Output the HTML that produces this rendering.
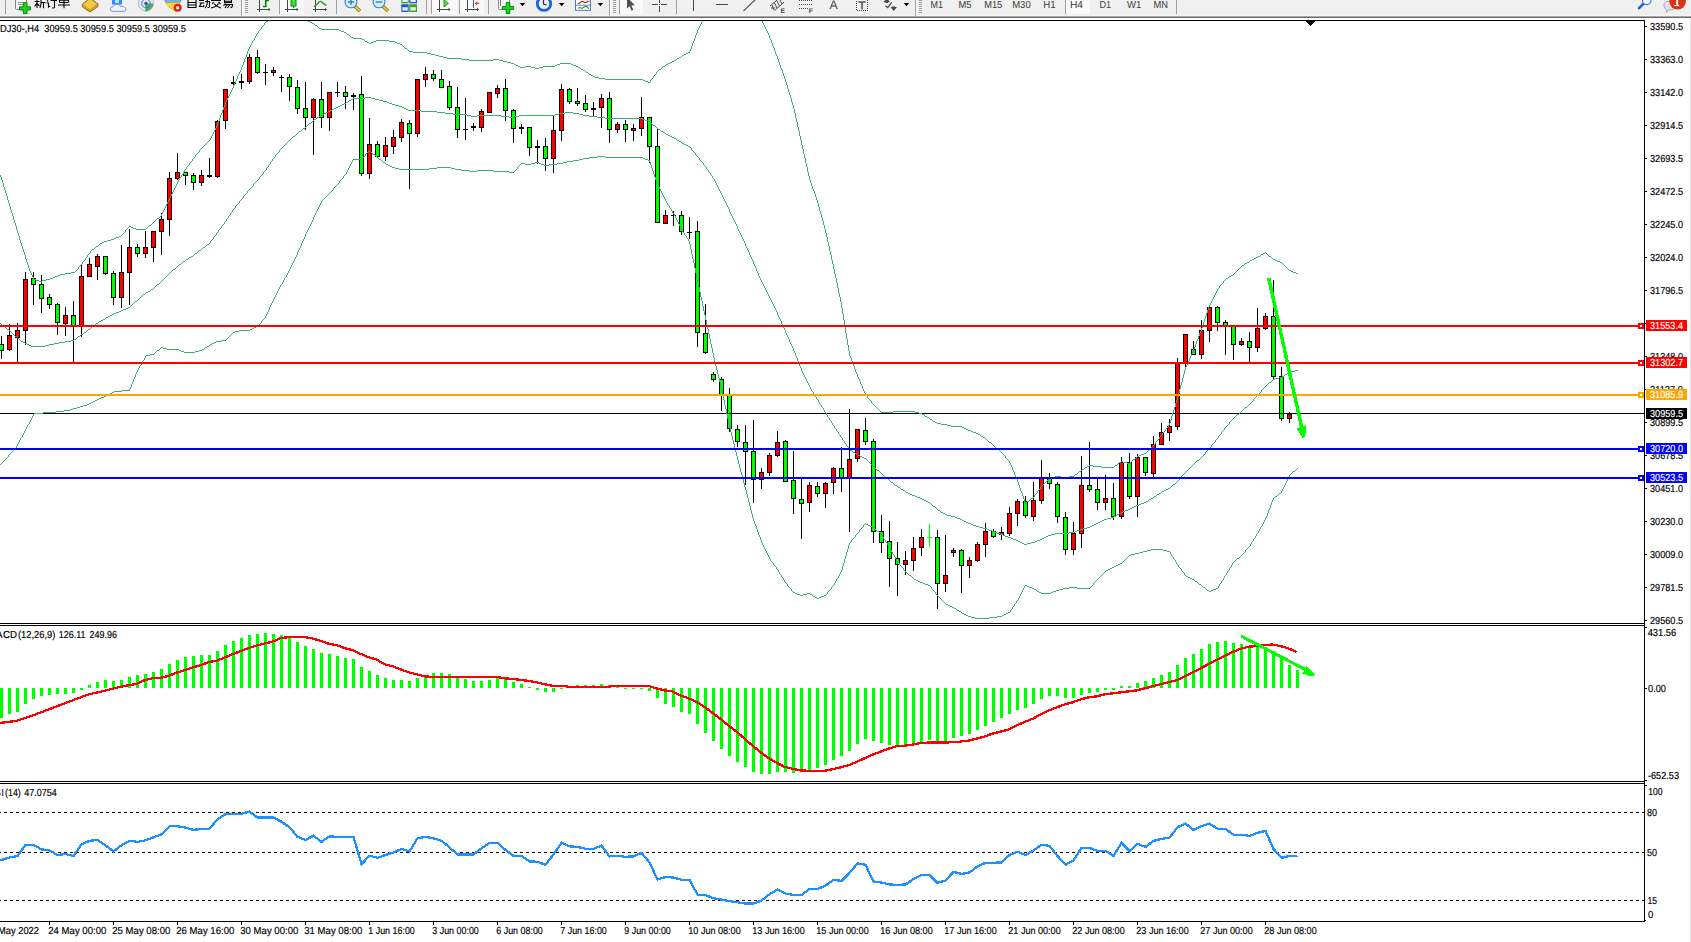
<!DOCTYPE html><html><head><meta charset="utf-8"><style>html,body{margin:0;padding:0;background:#fff;overflow:hidden}svg{display:block}</style></head><body><svg width="1691" height="942" viewBox="0 0 1691 942" font-family="Liberation Sans, sans-serif" text-rendering="geometricPrecision">
<defs><clipPath id="mainclip"><rect x="0" y="21" width="1644" height="602"/></clipPath>
<clipPath id="tbclip"><rect x="0" y="0" width="1691" height="16"/></clipPath></defs>
<rect x="0" y="0" width="1691" height="942" fill="#fff" />
<g shape-rendering="crispEdges">
<rect x="0" y="0" width="1691" height="16" fill="#f0f0f0" />
<rect x="0" y="15" width="1691" height="1" fill="#f6f6f6" />
<rect x="0" y="16" width="1691" height="1" fill="#a9a9a9" />
<rect x="0" y="17" width="1691" height="1" fill="#696969" />
</g>
<g clip-path="url(#tbclip)">
<rect x="5" y="0" width="1" height="14" fill="#a0a0a0" shape-rendering="crispEdges"/>
<rect x="15.5" y="-3" width="11" height="12.5" rx="1" fill="#fff" stroke="#808080"/>
<path d="M18,2.5H24M18,4.5H24" stroke="#909090" stroke-width="1"/>
<path d="M19.5,6.8H23.3V2.6H27V6.8H30.5V10H27V13.6H23.3V10H19.5Z" fill="#1fd01f" stroke="#0a8a0a" stroke-width="1"/>
<g stroke="#000" stroke-width="1.1" fill="none">
<path d="M34.5,1.5H39.5M37,0V8M37,3L34.5,6.5M37,3.5L39.5,6M41,0V3.5Q41,6.5 39.8,8M41,2.5H45.5M43.5,2.5V8.2"/>
<path d="M47,0.5L48.2,1.5M46.5,3H48.5V7L50,6M50.5,0.5H57M54.5,0.5V7.5Q54,8.3 52,7.8"/>
<path d="M59.5,0.3H68.5M59.5,2.5H68.5M59.5,0V2.5M68.5,0V2.5M58,5H70M64,0V8.3"/>
</g>
<polygon points="82,4.5 90,-2 98,4 98,6.5 90,12 82.5,7" fill="#d9a21b" stroke="#8a5a08" stroke-width="0.8"/>
<polygon points="83.5,4.5 90,-1 96.5,4 90,9" fill="#f2cd4a"/>
<rect x="112" y="-3" width="10" height="7.5" fill="#2a8cff"/><rect x="115" y="0" width="4" height="3" fill="#bfe0ff"/>
<path d="M112.5,11.3Q109.8,11 110.3,8.5Q110.6,6.6 113,6.8Q114,4 117.2,4.3Q120,4.2 120.8,6.6Q123,5.6 124.3,7.3Q126.6,7.8 125.8,10Q125.3,11.4 123.5,11.3Z" fill="#eef4fc" stroke="#6f8fc0" stroke-width="0.9"/>
<circle cx="146" cy="3.5" r="7.6" fill="#dfe9f4" stroke="#9db4d6" stroke-width="0.8"/>
<path d="M146,3.5L153.5,3.5A7.5,7.5 0 0 1 146,11Z" fill="#58a868"/>
<circle cx="146" cy="3.5" r="4.3" fill="none" stroke="#4f74cf" stroke-width="1"/>
<circle cx="146" cy="3.5" r="1.7" fill="#2a50c8"/>
<rect x="145.5" y="4" width="1.3" height="7.5" fill="#2f9a3a"/>
<ellipse cx="173" cy="0.5" rx="8" ry="3" fill="#6fb4e6" stroke="#3f7fba" stroke-width="0.8"/>
<polygon points="165.5,2.5 180,2.5 176,8 176,11.5 170,8" fill="#f6d643" stroke="#c9a227" stroke-width="0.7"/>
<circle cx="177.7" cy="7.8" r="4" fill="#e02010"/><rect x="176.3" y="6.4" width="2.8" height="2.8" fill="#fff"/>
<g stroke="#000" stroke-width="1.1" fill="none">
<path d="M188,0V7.5H196V0M188,2.5H196M188,5H196"/>
<path d="M199,0.5H204M199.5,3H204.5M201.5,3L199.5,6.5H203.5L204,5M205,1.5H209.5V6.5Q209.3,7.8 207.5,7.5M207.3,0V3Q207,6 205,8"/>
<path d="M211,0.5H221M213.5,2L212,4M218.5,2L220.5,4M214,3.5Q216,6.5 221,8M218.5,3.5Q216.5,7 211,8"/>
<path d="M224.5,0V2.5H231.5V0M224.5,1.2H231.5M225.5,3.5L223.5,5.8M225,4.5H232.5Q232.5,7.8 230.3,7.8M227.5,4.5L225,7.8M230,4.5L227.5,7.8"/>
</g>
<rect x="241" y="0" width="1" height="16" fill="#a0a0a0" shape-rendering="crispEdges"/>
<rect x="242" y="0" width="1" height="16" fill="#fff" shape-rendering="crispEdges"/>
<rect x="245" y="0" width="3" height="1" fill="#a0a0a0" shape-rendering="crispEdges"/>
<rect x="245" y="2" width="3" height="1" fill="#a0a0a0" shape-rendering="crispEdges"/>
<rect x="245" y="4" width="3" height="1" fill="#a0a0a0" shape-rendering="crispEdges"/>
<rect x="245" y="6" width="3" height="1" fill="#a0a0a0" shape-rendering="crispEdges"/>
<rect x="245" y="8" width="3" height="1" fill="#a0a0a0" shape-rendering="crispEdges"/>
<rect x="245" y="10" width="3" height="1" fill="#a0a0a0" shape-rendering="crispEdges"/>
<rect x="245" y="12" width="3" height="1" fill="#a0a0a0" shape-rendering="crispEdges"/>
<rect x="259" y="0" width="1" height="12" fill="#484848" shape-rendering="crispEdges"/>
<rect x="257" y="9" width="13" height="1" fill="#484848" shape-rendering="crispEdges"/>
<polygon points="268.5,7.8 270.5,9.5 268.5,11.2" fill="#484848"/>
<path d="M263,6.5H265.8V0.5H269" fill="none" stroke="#008a00" stroke-width="1.6"/>
<rect x="279" y="0" width="1" height="14" fill="#a0a0a0" shape-rendering="crispEdges"/>
<rect x="280" y="0" width="24" height="14" fill="#f9f9f9"/>
<rect x="287" y="0" width="1" height="12" fill="#484848" shape-rendering="crispEdges"/>
<rect x="285" y="9" width="13" height="1" fill="#484848" shape-rendering="crispEdges"/>
<polygon points="296.5,7.8 298.5,9.5 296.5,11.2" fill="#484848"/>
<rect x="291" y="-2" width="5" height="8" fill="#3ce03c" stroke="#0a8a0a" stroke-width="1"/><rect x="293" y="6" width="1.2" height="2.2" fill="#0a8a0a"/>
<rect x="315" y="0" width="1" height="12" fill="#484848" shape-rendering="crispEdges"/>
<rect x="313" y="9" width="13.5" height="1" fill="#484848" shape-rendering="crispEdges"/>
<polygon points="325.0,7.8 327.0,9.5 325.0,11.2" fill="#484848"/>
<path d="M314,6.8Q317.5,4 319.5,1.8Q320.5,1 321.5,1.8Q324,4.5 326.5,5.3" fill="none" stroke="#1f9a2f" stroke-width="1.3"/>
<rect x="336" y="0" width="1" height="14" fill="#a0a0a0" shape-rendering="crispEdges"/>
<line x1="354.8" y1="6.2" x2="360" y2="11" stroke="#9a7410" stroke-width="3.4"/>
<line x1="355.2" y1="6.6" x2="359.6" y2="10.6" stroke="#ecd030" stroke-width="1.8"/>
<circle cx="351" cy="1.9" r="5.9" fill="#d2ecfc" stroke="#3a82c8" stroke-width="1.1"/>
<rect x="347.8" y="1.3" width="6.4" height="1.4" fill="#3a82b4"/>
<rect x="350.3" y="-2" width="1.4" height="7" fill="#3a82b4"/>
<line x1="382.8" y1="6.2" x2="388" y2="11" stroke="#9a7410" stroke-width="3.4"/>
<line x1="383.2" y1="6.6" x2="387.6" y2="10.6" stroke="#ecd030" stroke-width="1.8"/>
<circle cx="379" cy="1.9" r="5.9" fill="#d2ecfc" stroke="#3a82c8" stroke-width="1.1"/>
<rect x="375.8" y="1.3" width="6.4" height="1.4" fill="#3a82b4"/>
<rect x="401.3" y="-3" width="7.4" height="6.3" fill="#3aa51e"/><rect x="409.2" y="-3" width="7.8" height="6.3" fill="#2456d8"/>
<rect x="401.3" y="4.2" width="7.4" height="7.8" fill="#2456d8"/><rect x="409.2" y="4.2" width="7.8" height="7.8" fill="#3aa51e"/>
<rect x="402.4" y="-1" width="5.4" height="3" fill="#e8f4e0"/><rect x="410.4" y="-1" width="5.4" height="3" fill="#e4ecff"/>
<rect x="402.4" y="7.2" width="5.4" height="3.4" fill="#e4ecff"/><rect x="410.4" y="7.2" width="5.4" height="3.4" fill="#e8f4e0"/>
<rect x="426" y="0" width="1" height="14" fill="#a0a0a0" shape-rendering="crispEdges"/>
<rect x="431" y="0" width="1" height="14" fill="#a0a0a0" shape-rendering="crispEdges"/>
<rect x="432" y="0" width="25" height="14" fill="#f9f9f9"/>
<rect x="439" y="0" width="1" height="12" fill="#484848" shape-rendering="crispEdges"/>
<rect x="437" y="9" width="13" height="1" fill="#484848" shape-rendering="crispEdges"/>
<polygon points="448.5,7.8 450.5,9.5 448.5,11.2" fill="#484848"/>
<polygon points="444,-0.3 444,7 448.4,3.4" fill="#58e058" stroke="#16a016" stroke-width="1"/>
<rect x="459" y="0" width="1" height="14" fill="#a0a0a0" shape-rendering="crispEdges"/>
<rect x="460" y="0" width="24" height="14" fill="#f9f9f9"/>
<rect x="467" y="0" width="1" height="12" fill="#484848" shape-rendering="crispEdges"/>
<rect x="465" y="9" width="13.5" height="1" fill="#484848" shape-rendering="crispEdges"/>
<polygon points="477.0,7.8 479.0,9.5 477.0,11.2" fill="#484848"/>
<rect x="473" y="0" width="1" height="8" fill="#1f6fb0" shape-rendering="crispEdges"/>
<path d="M474.6,3.4L477.2,1.3V2.8H479.2V4H477.2V5.5Z" fill="#e04808"/>
<rect x="488" y="0" width="1" height="14" fill="#a0a0a0" shape-rendering="crispEdges"/>
<rect x="498.5" y="-3" width="11" height="12.5" rx="1" fill="#fff" stroke="#909090"/>
<path d="M500.5,0V6" stroke="#707070" stroke-width="1"/>
<path d="M502.3,6.4H506.2V2.4H509.8V6.4H513.6V9.4H509.8V13.5H506.2V9.4H502.3Z" fill="#1fd01f" stroke="#0a8a0a" stroke-width="1"/>
<polygon points="519.7,3 525.3000000000001,3 522.5,6.3" fill="#000"/>
<circle cx="544" cy="3.7" r="6.7" fill="#eef2fa" stroke="#1565d8" stroke-width="2.8"/>
<path d="M543.5,-1V4L546.5,5" fill="none" stroke="#303030" stroke-width="1.3"/>
<polygon points="558.9,3 564.5,3 561.6999999999999,6.3" fill="#000"/>
<rect x="575.5" y="-3" width="15" height="13.3" fill="#fff" stroke="#4a78c8" stroke-width="1"/>
<path d="M575.5,5.2H590.5" stroke="#4a78c8" stroke-width="0.9"/>
<path d="M577.5,3.3H579.5L581.5,1.5H583L584.5,2.5H586L588,1.2H589.5" fill="none" stroke="#a82010" stroke-width="1.1"/>
<path d="M578,8.3L580,7.5L582,8.4L585,6.3L587,6.8L589,8.6" fill="none" stroke="#189818" stroke-width="1.1"/>
<polygon points="597.6,3 603.2,3 600.4,6.3" fill="#000"/>
<rect x="609" y="0" width="1" height="16" fill="#a0a0a0" shape-rendering="crispEdges"/>
<rect x="610" y="0" width="1" height="16" fill="#fff" shape-rendering="crispEdges"/>
<rect x="613" y="0" width="3" height="1" fill="#a0a0a0" shape-rendering="crispEdges"/>
<rect x="613" y="2" width="3" height="1" fill="#a0a0a0" shape-rendering="crispEdges"/>
<rect x="613" y="4" width="3" height="1" fill="#a0a0a0" shape-rendering="crispEdges"/>
<rect x="613" y="6" width="3" height="1" fill="#a0a0a0" shape-rendering="crispEdges"/>
<rect x="613" y="8" width="3" height="1" fill="#a0a0a0" shape-rendering="crispEdges"/>
<rect x="613" y="10" width="3" height="1" fill="#a0a0a0" shape-rendering="crispEdges"/>
<rect x="613" y="12" width="3" height="1" fill="#a0a0a0" shape-rendering="crispEdges"/>
<rect x="619" y="0" width="1" height="14" fill="#a0a0a0" shape-rendering="crispEdges"/>
<rect x="620" y="0" width="23" height="14" fill="#f9f9f9"/>
<polygon points="627,-3 627,8.6 629.5,6.3 631.6,10.7 633.3,9.8 631.3,5.6 634.8,5.3" fill="#505050"/>
<g fill="#484848" shape-rendering="crispEdges"><rect x="652" y="4" width="6" height="1"/><rect x="661" y="4" width="6" height="1"/><rect x="659" y="0" width="1" height="3"/><rect x="659" y="6" width="1" height="6"/><rect x="659" y="4" width="1" height="1"/></g>
<rect x="676" y="0" width="1" height="14" fill="#a0a0a0" shape-rendering="crispEdges"/>
<rect x="693" y="0" width="1" height="11" fill="#484848" shape-rendering="crispEdges"/>
<rect x="716" y="4" width="12" height="1" fill="#484848" shape-rendering="crispEdges"/>
<line x1="743.5" y1="10.8" x2="755.8" y2="-0.8" stroke="#484848" stroke-width="1.1"/>
<g stroke="#484848" stroke-width="1" fill="none"><path d="M770,6L780,-2.5M774.5,10.7L784,2M772,5L774,10M774.5,3L777,8M777,1L779.5,6M779.5,-1L782,4M771,8H775"/></g>
<text x="780.6" y="12.6" font-size="6.6" font-weight="bold" fill="#484848">E</text>
<g stroke="#484848" stroke-width="1" stroke-dasharray="1,1" shape-rendering="crispEdges"><path d="M799,0.5H812M799,4.5H812M799,8.5H808"/></g>
<text x="808.8" y="12.6" font-size="6.6" font-weight="bold" fill="#484848">F</text>
<text x="829.6" y="8.6" font-size="12.5" fill="#484848" textLength="8.2" lengthAdjust="spacingAndGlyphs">A</text>
<rect x="856.5" y="-3" width="11" height="13.5" fill="none" stroke="#484848" stroke-width="1" stroke-dasharray="1,1" shape-rendering="crispEdges"/>
<text x="858.3" y="8.8" font-size="11" fill="#484848" stroke="#484848" stroke-width="0.3" textLength="7.4" lengthAdjust="spacingAndGlyphs">T</text>
<polygon points="883.5,2.3 886.7,-2 890,2.3 888,2.3 888,3 885.5,3 885.5,2.3" fill="#484848"/>
<path d="M885.3,5.8L887.8,7.6L891.6,2.4" fill="none" stroke="#484848" stroke-width="1.2"/>
<polygon points="890.6,7.2 893.7,6.3 896.9,7.2 893.7,10.9" fill="#484848"/>
<polygon points="903.7,3 909.3000000000001,3 906.5,6.3" fill="#000"/>
<rect x="915" y="0" width="1" height="16" fill="#a0a0a0" shape-rendering="crispEdges"/>
<rect x="916" y="0" width="1" height="16" fill="#fff" shape-rendering="crispEdges"/>
<rect x="919" y="0" width="3" height="1" fill="#a0a0a0" shape-rendering="crispEdges"/>
<rect x="919" y="2" width="3" height="1" fill="#a0a0a0" shape-rendering="crispEdges"/>
<rect x="919" y="4" width="3" height="1" fill="#a0a0a0" shape-rendering="crispEdges"/>
<rect x="919" y="6" width="3" height="1" fill="#a0a0a0" shape-rendering="crispEdges"/>
<rect x="919" y="8" width="3" height="1" fill="#a0a0a0" shape-rendering="crispEdges"/>
<rect x="919" y="10" width="3" height="1" fill="#a0a0a0" shape-rendering="crispEdges"/>
<rect x="919" y="12" width="3" height="1" fill="#a0a0a0" shape-rendering="crispEdges"/>
<text x="930.5" y="8.4" font-size="10.2" fill="#3c3c3c" textLength="12.5" lengthAdjust="spacingAndGlyphs">M1</text>
<text x="958.5" y="8.4" font-size="10.2" fill="#3c3c3c" textLength="13" lengthAdjust="spacingAndGlyphs">M5</text>
<text x="984.2" y="8.4" font-size="10.2" fill="#3c3c3c" textLength="18" lengthAdjust="spacingAndGlyphs">M15</text>
<text x="1012.2" y="8.4" font-size="10.2" fill="#3c3c3c" textLength="18.5" lengthAdjust="spacingAndGlyphs">M30</text>
<text x="1043.2" y="8.4" font-size="10.2" fill="#3c3c3c" textLength="12.3" lengthAdjust="spacingAndGlyphs">H1</text>
<rect x="1065" y="0" width="1" height="14" fill="#a0a0a0" shape-rendering="crispEdges"/>
<rect x="1066" y="0" width="24" height="14" fill="#f9f9f9"/>
<text x="1070" y="8.4" font-size="10.2" fill="#3c3c3c" textLength="13" lengthAdjust="spacingAndGlyphs">H4</text>
<text x="1099.5" y="8.4" font-size="10.2" fill="#3c3c3c" textLength="11.7" lengthAdjust="spacingAndGlyphs">D1</text>
<text x="1127" y="8.4" font-size="10.2" fill="#3c3c3c" textLength="14.3" lengthAdjust="spacingAndGlyphs">W1</text>
<text x="1153.5" y="8.4" font-size="10.2" fill="#3c3c3c" textLength="14.5" lengthAdjust="spacingAndGlyphs">MN</text>
<rect x="1176" y="0" width="1" height="14" fill="#a0a0a0" shape-rendering="crispEdges"/>
<line x1="1643.3" y1="3.8" x2="1639" y2="8.2" stroke="#1f5fd0" stroke-width="2.6" stroke-linecap="round"/>
<circle cx="1646.7" cy="0.3" r="4.3" fill="#f4f6ff" stroke="#2f6ae0" stroke-width="1.1"/>
<path d="M1664,6Q1663,1 1670,1.3Q1676,1.5 1676,6Q1675,10 1668,10L1666.3,12.6L1666.5,9.6Q1664.3,8.5 1664,6Z" fill="#dfe2ee" stroke="#a8a8a8" stroke-width="0.9"/>
<circle cx="1677.6" cy="1.3" r="8.3" fill="#dc3218"/>
<rect x="1676.2" y="-3" width="1.9" height="8.6" fill="#fff"/><rect x="1674" y="5" width="5.2" height="1.1" fill="#fff"/>
</g>
<g shape-rendering="crispEdges">
<rect x="1690" y="18" width="1" height="924" fill="#e3e3e3" />
<rect x="0" y="20" width="1645" height="1" fill="#000" />
<rect x="1644" y="20" width="1" height="902" fill="#000" />
<rect x="0" y="623" width="1645" height="1" fill="#000" />
<rect x="0" y="625" width="1645" height="1" fill="#000" />
<rect x="0" y="781" width="1645" height="1" fill="#000" />
<rect x="0" y="783" width="1645" height="1" fill="#000" />
<rect x="0" y="921" width="1645" height="1" fill="#000" />
</g>
<g shape-rendering="crispEdges">
<rect x="1" y="336" width="1" height="23" fill="#000" />
<rect x="-1" y="344" width="5" height="7" fill="#000" />
<rect x="0" y="345" width="3" height="5" fill="#00ff00" />
<rect x="9" y="324" width="1" height="27" fill="#000" />
<rect x="7" y="335" width="5" height="15" fill="#000" />
<rect x="8" y="336" width="3" height="13" fill="#ff0000" />
<rect x="17" y="323" width="1" height="39" fill="#000" />
<rect x="15" y="330" width="5" height="8" fill="#000" />
<rect x="16" y="331" width="3" height="6" fill="#ff0000" />
<rect x="25" y="272" width="1" height="73" fill="#000" />
<rect x="23" y="279" width="5" height="52" fill="#000" />
<rect x="24" y="280" width="3" height="50" fill="#ff0000" />
<rect x="33" y="272" width="1" height="33" fill="#000" />
<rect x="31" y="278" width="5" height="7" fill="#000" />
<rect x="32" y="279" width="3" height="5" fill="#00ff00" />
<rect x="41" y="275" width="1" height="38" fill="#000" />
<rect x="39" y="284" width="5" height="15" fill="#000" />
<rect x="40" y="285" width="3" height="13" fill="#00ff00" />
<rect x="49" y="294" width="1" height="15" fill="#000" />
<rect x="47" y="297" width="5" height="8" fill="#000" />
<rect x="48" y="298" width="3" height="6" fill="#00ff00" />
<rect x="57" y="303" width="1" height="32" fill="#000" />
<rect x="55" y="304" width="5" height="19" fill="#000" />
<rect x="56" y="305" width="3" height="17" fill="#00ff00" />
<rect x="65" y="307" width="1" height="29" fill="#000" />
<rect x="63" y="315" width="5" height="9" fill="#000" />
<rect x="64" y="316" width="3" height="7" fill="#ff0000" />
<rect x="73" y="301" width="1" height="61" fill="#000" />
<rect x="71" y="315" width="5" height="11" fill="#000" />
<rect x="72" y="316" width="3" height="9" fill="#00ff00" />
<rect x="81" y="265" width="1" height="72" fill="#000" />
<rect x="79" y="276" width="5" height="51" fill="#000" />
<rect x="80" y="277" width="3" height="49" fill="#ff0000" />
<rect x="89" y="258" width="1" height="19" fill="#000" />
<rect x="87" y="264" width="5" height="13" fill="#000" />
<rect x="88" y="265" width="3" height="11" fill="#ff0000" />
<rect x="97" y="254" width="1" height="26" fill="#000" />
<rect x="95" y="256" width="5" height="11" fill="#000" />
<rect x="96" y="257" width="3" height="9" fill="#ff0000" />
<rect x="105" y="256" width="1" height="19" fill="#000" />
<rect x="103" y="256" width="5" height="18" fill="#000" />
<rect x="104" y="257" width="3" height="16" fill="#00ff00" />
<rect x="113" y="271" width="1" height="34" fill="#000" />
<rect x="111" y="273" width="5" height="25" fill="#000" />
<rect x="112" y="274" width="3" height="23" fill="#00ff00" />
<rect x="121" y="245" width="1" height="63" fill="#000" />
<rect x="119" y="272" width="5" height="26" fill="#000" />
<rect x="120" y="273" width="3" height="24" fill="#ff0000" />
<rect x="129" y="229" width="1" height="76" fill="#000" />
<rect x="127" y="247" width="5" height="26" fill="#000" />
<rect x="128" y="248" width="3" height="24" fill="#ff0000" />
<rect x="137" y="244" width="1" height="13" fill="#000" />
<rect x="135" y="247" width="5" height="7" fill="#000" />
<rect x="136" y="248" width="3" height="5" fill="#00ff00" />
<rect x="145" y="231" width="1" height="27" fill="#000" />
<rect x="143" y="247" width="5" height="7" fill="#000" />
<rect x="144" y="248" width="3" height="5" fill="#ff0000" />
<rect x="153" y="231" width="1" height="31" fill="#000" />
<rect x="151" y="231" width="5" height="17" fill="#000" />
<rect x="152" y="232" width="3" height="15" fill="#ff0000" />
<rect x="161" y="213" width="1" height="42" fill="#000" />
<rect x="159" y="219" width="5" height="13" fill="#000" />
<rect x="160" y="220" width="3" height="11" fill="#ff0000" />
<rect x="169" y="172" width="1" height="64" fill="#000" />
<rect x="167" y="178" width="5" height="42" fill="#000" />
<rect x="168" y="179" width="3" height="40" fill="#ff0000" />
<rect x="177" y="153" width="1" height="27" fill="#000" />
<rect x="175" y="172" width="5" height="7" fill="#000" />
<rect x="176" y="173" width="3" height="5" fill="#ff0000" />
<rect x="185" y="172" width="1" height="13" fill="#000" />
<rect x="183" y="172" width="5" height="4" fill="#000" />
<rect x="184" y="173" width="3" height="2" fill="#00ff00" />
<rect x="193" y="173" width="1" height="17" fill="#000" />
<rect x="191" y="175" width="5" height="8" fill="#000" />
<rect x="192" y="176" width="3" height="6" fill="#00ff00" />
<rect x="201" y="170" width="1" height="16" fill="#000" />
<rect x="199" y="175" width="5" height="8" fill="#000" />
<rect x="200" y="176" width="3" height="6" fill="#ff0000" />
<rect x="209" y="158" width="1" height="20" fill="#000" />
<rect x="207" y="175" width="5" height="2" fill="#000" />
<rect x="217" y="120" width="1" height="58" fill="#000" />
<rect x="215" y="121" width="5" height="56" fill="#000" />
<rect x="216" y="122" width="3" height="54" fill="#ff0000" />
<rect x="225" y="89" width="1" height="40" fill="#000" />
<rect x="223" y="89" width="5" height="32" fill="#000" />
<rect x="224" y="90" width="3" height="30" fill="#ff0000" />
<rect x="233" y="76" width="1" height="9" fill="#000" />
<rect x="231" y="82" width="5" height="2" fill="#000" />
<rect x="241" y="74" width="1" height="15" fill="#000" />
<rect x="239" y="81" width="5" height="2" fill="#000" />
<rect x="249" y="54" width="1" height="30" fill="#000" />
<rect x="247" y="57" width="5" height="25" fill="#000" />
<rect x="248" y="58" width="3" height="23" fill="#ff0000" />
<rect x="257" y="50" width="1" height="24" fill="#000" />
<rect x="255" y="57" width="5" height="16" fill="#000" />
<rect x="256" y="58" width="3" height="14" fill="#00ff00" />
<rect x="265" y="64" width="1" height="21" fill="#000" />
<rect x="263" y="72" width="5" height="1" fill="#000" />
<rect x="273" y="67" width="1" height="9" fill="#000" />
<rect x="271" y="70" width="5" height="3" fill="#000" />
<rect x="272" y="71" width="3" height="1" fill="#ff0000" />
<rect x="281" y="75" width="1" height="17" fill="#000" />
<rect x="279" y="77" width="5" height="1" fill="#000" />
<rect x="289" y="74" width="1" height="27" fill="#000" />
<rect x="287" y="77" width="5" height="10" fill="#000" />
<rect x="288" y="78" width="3" height="8" fill="#00ff00" />
<rect x="297" y="80" width="1" height="34" fill="#000" />
<rect x="295" y="87" width="5" height="22" fill="#000" />
<rect x="296" y="88" width="3" height="20" fill="#00ff00" />
<rect x="305" y="82" width="1" height="48" fill="#000" />
<rect x="303" y="108" width="5" height="10" fill="#000" />
<rect x="304" y="109" width="3" height="8" fill="#00ff00" />
<rect x="313" y="98" width="1" height="57" fill="#000" />
<rect x="311" y="99" width="5" height="19" fill="#000" />
<rect x="312" y="100" width="3" height="17" fill="#ff0000" />
<rect x="321" y="82" width="1" height="46" fill="#000" />
<rect x="319" y="99" width="5" height="19" fill="#000" />
<rect x="320" y="100" width="3" height="17" fill="#00ff00" />
<rect x="329" y="92" width="1" height="39" fill="#000" />
<rect x="327" y="92" width="5" height="26" fill="#000" />
<rect x="328" y="93" width="3" height="24" fill="#ff0000" />
<rect x="337" y="82" width="1" height="15" fill="#000" />
<rect x="335" y="92" width="5" height="1" fill="#000" />
<rect x="345" y="86" width="1" height="23" fill="#000" />
<rect x="343" y="92" width="5" height="5" fill="#000" />
<rect x="344" y="93" width="3" height="3" fill="#00ff00" />
<rect x="353" y="93" width="1" height="17" fill="#000" />
<rect x="351" y="95" width="5" height="2" fill="#000" />
<rect x="361" y="76" width="1" height="100" fill="#000" />
<rect x="359" y="94" width="5" height="80" fill="#000" />
<rect x="360" y="95" width="3" height="78" fill="#00ff00" />
<rect x="369" y="118" width="1" height="61" fill="#000" />
<rect x="367" y="144" width="5" height="30" fill="#000" />
<rect x="368" y="145" width="3" height="28" fill="#ff0000" />
<rect x="377" y="141" width="1" height="16" fill="#000" />
<rect x="375" y="144" width="5" height="13" fill="#000" />
<rect x="376" y="145" width="3" height="11" fill="#00ff00" />
<rect x="385" y="137" width="1" height="24" fill="#000" />
<rect x="383" y="145" width="5" height="12" fill="#000" />
<rect x="384" y="146" width="3" height="10" fill="#ff0000" />
<rect x="393" y="130" width="1" height="24" fill="#000" />
<rect x="391" y="137" width="5" height="10" fill="#000" />
<rect x="392" y="138" width="3" height="8" fill="#ff0000" />
<rect x="401" y="119" width="1" height="23" fill="#000" />
<rect x="399" y="122" width="5" height="16" fill="#000" />
<rect x="400" y="123" width="3" height="14" fill="#ff0000" />
<rect x="409" y="120" width="1" height="69" fill="#000" />
<rect x="407" y="123" width="5" height="11" fill="#000" />
<rect x="408" y="124" width="3" height="9" fill="#00ff00" />
<rect x="417" y="79" width="1" height="58" fill="#000" />
<rect x="415" y="79" width="5" height="55" fill="#000" />
<rect x="416" y="80" width="3" height="53" fill="#ff0000" />
<rect x="425" y="67" width="1" height="20" fill="#000" />
<rect x="423" y="74" width="5" height="6" fill="#000" />
<rect x="424" y="75" width="3" height="4" fill="#ff0000" />
<rect x="433" y="70" width="1" height="11" fill="#000" />
<rect x="431" y="74" width="5" height="5" fill="#000" />
<rect x="432" y="75" width="3" height="3" fill="#00ff00" />
<rect x="441" y="70" width="1" height="18" fill="#000" />
<rect x="439" y="79" width="5" height="9" fill="#000" />
<rect x="440" y="80" width="3" height="7" fill="#00ff00" />
<rect x="449" y="81" width="1" height="29" fill="#000" />
<rect x="447" y="86" width="5" height="22" fill="#000" />
<rect x="448" y="87" width="3" height="20" fill="#00ff00" />
<rect x="457" y="87" width="1" height="51" fill="#000" />
<rect x="455" y="107" width="5" height="23" fill="#000" />
<rect x="456" y="108" width="3" height="21" fill="#00ff00" />
<rect x="465" y="98" width="1" height="42" fill="#000" />
<rect x="463" y="129" width="5" height="1" fill="#000" />
<rect x="473" y="123" width="1" height="8" fill="#000" />
<rect x="471" y="126" width="5" height="2" fill="#000" />
<rect x="481" y="109" width="1" height="23" fill="#000" />
<rect x="479" y="111" width="5" height="17" fill="#000" />
<rect x="480" y="112" width="3" height="15" fill="#ff0000" />
<rect x="489" y="92" width="1" height="21" fill="#000" />
<rect x="487" y="92" width="5" height="21" fill="#000" />
<rect x="488" y="93" width="3" height="19" fill="#ff0000" />
<rect x="497" y="85" width="1" height="13" fill="#000" />
<rect x="495" y="88" width="5" height="6" fill="#000" />
<rect x="496" y="89" width="3" height="4" fill="#ff0000" />
<rect x="505" y="79" width="1" height="42" fill="#000" />
<rect x="503" y="88" width="5" height="23" fill="#000" />
<rect x="504" y="89" width="3" height="21" fill="#00ff00" />
<rect x="513" y="109" width="1" height="34" fill="#000" />
<rect x="511" y="110" width="5" height="19" fill="#000" />
<rect x="512" y="111" width="3" height="17" fill="#00ff00" />
<rect x="521" y="124" width="1" height="10" fill="#000" />
<rect x="519" y="127" width="5" height="2" fill="#000" />
<rect x="529" y="127" width="1" height="29" fill="#000" />
<rect x="527" y="127" width="5" height="21" fill="#000" />
<rect x="528" y="128" width="3" height="19" fill="#00ff00" />
<rect x="537" y="140" width="1" height="24" fill="#000" />
<rect x="535" y="146" width="5" height="2" fill="#000" />
<rect x="545" y="138" width="1" height="33" fill="#000" />
<rect x="543" y="146" width="5" height="13" fill="#000" />
<rect x="544" y="147" width="3" height="11" fill="#00ff00" />
<rect x="553" y="116" width="1" height="57" fill="#000" />
<rect x="551" y="130" width="5" height="29" fill="#000" />
<rect x="552" y="131" width="3" height="27" fill="#ff0000" />
<rect x="561" y="84" width="1" height="57" fill="#000" />
<rect x="559" y="89" width="5" height="42" fill="#000" />
<rect x="560" y="90" width="3" height="40" fill="#ff0000" />
<rect x="569" y="88" width="1" height="16" fill="#000" />
<rect x="567" y="89" width="5" height="13" fill="#000" />
<rect x="568" y="90" width="3" height="11" fill="#00ff00" />
<rect x="577" y="88" width="1" height="18" fill="#000" />
<rect x="575" y="101" width="5" height="3" fill="#000" />
<rect x="576" y="102" width="3" height="1" fill="#00ff00" />
<rect x="585" y="95" width="1" height="17" fill="#000" />
<rect x="583" y="103" width="5" height="7" fill="#000" />
<rect x="584" y="104" width="3" height="5" fill="#00ff00" />
<rect x="593" y="102" width="1" height="14" fill="#000" />
<rect x="591" y="108" width="5" height="2" fill="#000" />
<rect x="601" y="94" width="1" height="34" fill="#000" />
<rect x="599" y="98" width="5" height="10" fill="#000" />
<rect x="600" y="99" width="3" height="8" fill="#ff0000" />
<rect x="609" y="92" width="1" height="51" fill="#000" />
<rect x="607" y="98" width="5" height="32" fill="#000" />
<rect x="608" y="99" width="3" height="30" fill="#00ff00" />
<rect x="617" y="122" width="1" height="11" fill="#000" />
<rect x="615" y="124" width="5" height="6" fill="#000" />
<rect x="616" y="125" width="3" height="4" fill="#ff0000" />
<rect x="625" y="120" width="1" height="22" fill="#000" />
<rect x="623" y="124" width="5" height="6" fill="#000" />
<rect x="624" y="125" width="3" height="4" fill="#00ff00" />
<rect x="633" y="124" width="1" height="17" fill="#000" />
<rect x="631" y="128" width="5" height="3" fill="#000" />
<rect x="632" y="129" width="3" height="1" fill="#ff0000" />
<rect x="641" y="97" width="1" height="39" fill="#000" />
<rect x="639" y="117" width="5" height="12" fill="#000" />
<rect x="640" y="118" width="3" height="10" fill="#ff0000" />
<rect x="649" y="117" width="1" height="46" fill="#000" />
<rect x="647" y="117" width="5" height="30" fill="#000" />
<rect x="648" y="118" width="3" height="28" fill="#00ff00" />
<rect x="657" y="129" width="1" height="94" fill="#000" />
<rect x="655" y="146" width="5" height="77" fill="#000" />
<rect x="656" y="147" width="3" height="75" fill="#00ff00" />
<rect x="665" y="210" width="1" height="14" fill="#000" />
<rect x="663" y="215" width="5" height="9" fill="#000" />
<rect x="664" y="216" width="3" height="7" fill="#ff0000" />
<rect x="673" y="211" width="1" height="15" fill="#000" />
<rect x="671" y="215" width="5" height="1" fill="#000" />
<rect x="681" y="211" width="1" height="24" fill="#000" />
<rect x="679" y="215" width="5" height="17" fill="#000" />
<rect x="680" y="216" width="3" height="15" fill="#00ff00" />
<rect x="689" y="217" width="1" height="22" fill="#000" />
<rect x="687" y="232" width="5" height="1" fill="#000" />
<rect x="697" y="221" width="1" height="126" fill="#000" />
<rect x="695" y="231" width="5" height="102" fill="#000" />
<rect x="696" y="232" width="3" height="100" fill="#00ff00" />
<rect x="705" y="304" width="1" height="50" fill="#000" />
<rect x="703" y="333" width="5" height="20" fill="#000" />
<rect x="704" y="334" width="3" height="18" fill="#00ff00" />
<rect x="713" y="372" width="1" height="10" fill="#000" />
<rect x="711" y="374" width="5" height="6" fill="#000" />
<rect x="712" y="375" width="3" height="4" fill="#00ff00" />
<rect x="721" y="377" width="1" height="34" fill="#000" />
<rect x="719" y="379" width="5" height="16" fill="#000" />
<rect x="720" y="380" width="3" height="14" fill="#00ff00" />
<rect x="729" y="388" width="1" height="44" fill="#000" />
<rect x="727" y="395" width="5" height="34" fill="#000" />
<rect x="728" y="396" width="3" height="32" fill="#00ff00" />
<rect x="737" y="425" width="1" height="22" fill="#000" />
<rect x="735" y="429" width="5" height="13" fill="#000" />
<rect x="736" y="430" width="3" height="11" fill="#00ff00" />
<rect x="745" y="425" width="1" height="60" fill="#000" />
<rect x="743" y="442" width="5" height="10" fill="#000" />
<rect x="744" y="443" width="3" height="8" fill="#00ff00" />
<rect x="753" y="420" width="1" height="83" fill="#000" />
<rect x="751" y="451" width="5" height="29" fill="#000" />
<rect x="752" y="452" width="3" height="27" fill="#00ff00" />
<rect x="761" y="468" width="1" height="21" fill="#000" />
<rect x="759" y="472" width="5" height="8" fill="#000" />
<rect x="760" y="473" width="3" height="6" fill="#ff0000" />
<rect x="769" y="453" width="1" height="23" fill="#000" />
<rect x="767" y="455" width="5" height="18" fill="#000" />
<rect x="768" y="456" width="3" height="16" fill="#ff0000" />
<rect x="777" y="431" width="1" height="26" fill="#000" />
<rect x="775" y="442" width="5" height="14" fill="#000" />
<rect x="776" y="443" width="3" height="12" fill="#ff0000" />
<rect x="785" y="440" width="1" height="41" fill="#000" />
<rect x="783" y="441" width="5" height="41" fill="#000" />
<rect x="784" y="442" width="3" height="39" fill="#00ff00" />
<rect x="793" y="451" width="1" height="63" fill="#000" />
<rect x="791" y="480" width="5" height="19" fill="#000" />
<rect x="792" y="481" width="3" height="17" fill="#00ff00" />
<rect x="801" y="479" width="1" height="60" fill="#000" />
<rect x="799" y="499" width="5" height="5" fill="#000" />
<rect x="800" y="500" width="3" height="3" fill="#00ff00" />
<rect x="809" y="482" width="1" height="30" fill="#000" />
<rect x="807" y="485" width="5" height="18" fill="#000" />
<rect x="808" y="486" width="3" height="16" fill="#ff0000" />
<rect x="817" y="482" width="1" height="15" fill="#000" />
<rect x="815" y="486" width="5" height="8" fill="#000" />
<rect x="816" y="487" width="3" height="6" fill="#00ff00" />
<rect x="825" y="482" width="1" height="26" fill="#000" />
<rect x="823" y="483" width="5" height="11" fill="#000" />
<rect x="824" y="484" width="3" height="9" fill="#ff0000" />
<rect x="833" y="467" width="1" height="27" fill="#000" />
<rect x="831" y="468" width="5" height="15" fill="#000" />
<rect x="832" y="469" width="3" height="13" fill="#ff0000" />
<rect x="841" y="447" width="1" height="45" fill="#000" />
<rect x="839" y="468" width="5" height="11" fill="#000" />
<rect x="840" y="469" width="3" height="9" fill="#00ff00" />
<rect x="849" y="409" width="1" height="123" fill="#000" />
<rect x="847" y="459" width="5" height="19" fill="#000" />
<rect x="848" y="460" width="3" height="17" fill="#ff0000" />
<rect x="857" y="429" width="1" height="33" fill="#000" />
<rect x="855" y="429" width="5" height="30" fill="#000" />
<rect x="856" y="430" width="3" height="28" fill="#ff0000" />
<rect x="865" y="418" width="1" height="27" fill="#000" />
<rect x="863" y="430" width="5" height="12" fill="#000" />
<rect x="864" y="431" width="3" height="10" fill="#00ff00" />
<rect x="873" y="439" width="1" height="104" fill="#000" />
<rect x="871" y="441" width="5" height="91" fill="#000" />
<rect x="872" y="442" width="3" height="89" fill="#00ff00" />
<rect x="881" y="515" width="1" height="38" fill="#000" />
<rect x="879" y="531" width="5" height="12" fill="#000" />
<rect x="880" y="532" width="3" height="10" fill="#00ff00" />
<rect x="889" y="521" width="1" height="66" fill="#000" />
<rect x="887" y="541" width="5" height="18" fill="#000" />
<rect x="888" y="542" width="3" height="16" fill="#00ff00" />
<rect x="897" y="542" width="1" height="54" fill="#000" />
<rect x="895" y="558" width="5" height="7" fill="#000" />
<rect x="896" y="559" width="3" height="5" fill="#00ff00" />
<rect x="905" y="551" width="1" height="24" fill="#000" />
<rect x="903" y="560" width="5" height="5" fill="#000" />
<rect x="904" y="561" width="3" height="3" fill="#ff0000" />
<rect x="913" y="537" width="1" height="34" fill="#000" />
<rect x="911" y="548" width="5" height="13" fill="#000" />
<rect x="912" y="549" width="3" height="11" fill="#ff0000" />
<rect x="921" y="529" width="1" height="27" fill="#000" />
<rect x="919" y="537" width="5" height="11" fill="#000" />
<rect x="920" y="538" width="3" height="9" fill="#ff0000" />
<rect x="929" y="524" width="1" height="23" fill="#00ff00" />
<rect x="927" y="537" width="5" height="1" fill="#00ff00" />
<rect x="937" y="530" width="1" height="79" fill="#000" />
<rect x="935" y="537" width="5" height="47" fill="#000" />
<rect x="936" y="538" width="3" height="45" fill="#00ff00" />
<rect x="945" y="535" width="1" height="57" fill="#000" />
<rect x="943" y="575" width="5" height="9" fill="#000" />
<rect x="944" y="576" width="3" height="7" fill="#ff0000" />
<rect x="953" y="548" width="1" height="9" fill="#000" />
<rect x="951" y="550" width="5" height="3" fill="#000" />
<rect x="952" y="551" width="3" height="1" fill="#ff0000" />
<rect x="961" y="549" width="1" height="44" fill="#000" />
<rect x="959" y="550" width="5" height="16" fill="#000" />
<rect x="960" y="551" width="3" height="14" fill="#00ff00" />
<rect x="969" y="557" width="1" height="21" fill="#000" />
<rect x="967" y="560" width="5" height="6" fill="#000" />
<rect x="968" y="561" width="3" height="4" fill="#ff0000" />
<rect x="977" y="542" width="1" height="20" fill="#000" />
<rect x="975" y="544" width="5" height="17" fill="#000" />
<rect x="976" y="545" width="3" height="15" fill="#ff0000" />
<rect x="985" y="523" width="1" height="34" fill="#000" />
<rect x="983" y="531" width="5" height="14" fill="#000" />
<rect x="984" y="532" width="3" height="12" fill="#ff0000" />
<rect x="993" y="529" width="1" height="9" fill="#000" />
<rect x="991" y="531" width="5" height="6" fill="#000" />
<rect x="992" y="532" width="3" height="4" fill="#00ff00" />
<rect x="1001" y="527" width="1" height="13" fill="#000" />
<rect x="999" y="532" width="5" height="3" fill="#000" />
<rect x="1000" y="533" width="3" height="1" fill="#ff0000" />
<rect x="1009" y="507" width="1" height="29" fill="#000" />
<rect x="1007" y="513" width="5" height="21" fill="#000" />
<rect x="1008" y="514" width="3" height="19" fill="#ff0000" />
<rect x="1017" y="499" width="1" height="27" fill="#000" />
<rect x="1015" y="501" width="5" height="13" fill="#000" />
<rect x="1016" y="502" width="3" height="11" fill="#ff0000" />
<rect x="1025" y="496" width="1" height="22" fill="#000" />
<rect x="1023" y="501" width="5" height="15" fill="#000" />
<rect x="1024" y="502" width="3" height="13" fill="#00ff00" />
<rect x="1033" y="482" width="1" height="39" fill="#000" />
<rect x="1031" y="500" width="5" height="17" fill="#000" />
<rect x="1032" y="501" width="3" height="15" fill="#ff0000" />
<rect x="1041" y="460" width="1" height="44" fill="#000" />
<rect x="1039" y="478" width="5" height="23" fill="#000" />
<rect x="1040" y="479" width="3" height="21" fill="#ff0000" />
<rect x="1049" y="473" width="1" height="16" fill="#000" />
<rect x="1047" y="478" width="5" height="6" fill="#000" />
<rect x="1048" y="479" width="3" height="4" fill="#00ff00" />
<rect x="1057" y="482" width="1" height="41" fill="#000" />
<rect x="1055" y="484" width="5" height="33" fill="#000" />
<rect x="1056" y="485" width="3" height="31" fill="#00ff00" />
<rect x="1065" y="512" width="1" height="43" fill="#000" />
<rect x="1063" y="517" width="5" height="33" fill="#000" />
<rect x="1064" y="518" width="3" height="31" fill="#00ff00" />
<rect x="1073" y="522" width="1" height="33" fill="#000" />
<rect x="1071" y="533" width="5" height="17" fill="#000" />
<rect x="1072" y="534" width="3" height="15" fill="#ff0000" />
<rect x="1081" y="456" width="1" height="92" fill="#000" />
<rect x="1079" y="485" width="5" height="49" fill="#000" />
<rect x="1080" y="486" width="3" height="47" fill="#ff0000" />
<rect x="1089" y="442" width="1" height="50" fill="#000" />
<rect x="1087" y="485" width="5" height="5" fill="#000" />
<rect x="1088" y="486" width="3" height="3" fill="#00ff00" />
<rect x="1097" y="479" width="1" height="31" fill="#000" />
<rect x="1095" y="489" width="5" height="14" fill="#000" />
<rect x="1096" y="490" width="3" height="12" fill="#00ff00" />
<rect x="1105" y="475" width="1" height="35" fill="#000" />
<rect x="1103" y="498" width="5" height="5" fill="#000" />
<rect x="1104" y="499" width="3" height="3" fill="#ff0000" />
<rect x="1113" y="483" width="1" height="37" fill="#000" />
<rect x="1111" y="498" width="5" height="19" fill="#000" />
<rect x="1112" y="499" width="3" height="17" fill="#00ff00" />
<rect x="1121" y="457" width="1" height="62" fill="#000" />
<rect x="1119" y="462" width="5" height="55" fill="#000" />
<rect x="1120" y="463" width="3" height="53" fill="#ff0000" />
<rect x="1129" y="453" width="1" height="46" fill="#000" />
<rect x="1127" y="462" width="5" height="35" fill="#000" />
<rect x="1128" y="463" width="3" height="33" fill="#00ff00" />
<rect x="1137" y="454" width="1" height="63" fill="#000" />
<rect x="1135" y="457" width="5" height="40" fill="#000" />
<rect x="1136" y="458" width="3" height="38" fill="#ff0000" />
<rect x="1145" y="457" width="1" height="19" fill="#000" />
<rect x="1143" y="457" width="5" height="16" fill="#000" />
<rect x="1144" y="458" width="3" height="14" fill="#00ff00" />
<rect x="1153" y="436" width="1" height="41" fill="#000" />
<rect x="1151" y="444" width="5" height="30" fill="#000" />
<rect x="1152" y="445" width="3" height="28" fill="#ff0000" />
<rect x="1161" y="423" width="1" height="22" fill="#000" />
<rect x="1159" y="432" width="5" height="13" fill="#000" />
<rect x="1160" y="433" width="3" height="11" fill="#ff0000" />
<rect x="1169" y="419" width="1" height="22" fill="#000" />
<rect x="1167" y="426" width="5" height="7" fill="#000" />
<rect x="1168" y="427" width="3" height="5" fill="#ff0000" />
<rect x="1177" y="358" width="1" height="72" fill="#000" />
<rect x="1175" y="363" width="5" height="64" fill="#000" />
<rect x="1176" y="364" width="3" height="62" fill="#ff0000" />
<rect x="1185" y="334" width="1" height="33" fill="#000" />
<rect x="1183" y="334" width="5" height="29" fill="#000" />
<rect x="1184" y="335" width="3" height="27" fill="#ff0000" />
<rect x="1193" y="341" width="1" height="14" fill="#000" />
<rect x="1191" y="349" width="5" height="6" fill="#000" />
<rect x="1192" y="350" width="3" height="4" fill="#00ff00" />
<rect x="1201" y="320" width="1" height="39" fill="#000" />
<rect x="1199" y="330" width="5" height="25" fill="#000" />
<rect x="1200" y="331" width="3" height="23" fill="#ff0000" />
<rect x="1209" y="307" width="1" height="35" fill="#000" />
<rect x="1207" y="307" width="5" height="24" fill="#000" />
<rect x="1208" y="308" width="3" height="22" fill="#ff0000" />
<rect x="1217" y="306" width="1" height="25" fill="#000" />
<rect x="1215" y="307" width="5" height="16" fill="#000" />
<rect x="1216" y="308" width="3" height="14" fill="#00ff00" />
<rect x="1225" y="320" width="1" height="35" fill="#000" />
<rect x="1223" y="322" width="5" height="4" fill="#000" />
<rect x="1224" y="323" width="3" height="2" fill="#00ff00" />
<rect x="1233" y="326" width="1" height="34" fill="#000" />
<rect x="1231" y="326" width="5" height="19" fill="#000" />
<rect x="1232" y="327" width="3" height="17" fill="#00ff00" />
<rect x="1241" y="338" width="1" height="8" fill="#000" />
<rect x="1239" y="341" width="5" height="4" fill="#000" />
<rect x="1240" y="342" width="3" height="2" fill="#ff0000" />
<rect x="1249" y="332" width="1" height="30" fill="#000" />
<rect x="1247" y="341" width="5" height="7" fill="#000" />
<rect x="1248" y="342" width="3" height="5" fill="#00ff00" />
<rect x="1257" y="308" width="1" height="44" fill="#000" />
<rect x="1255" y="328" width="5" height="20" fill="#000" />
<rect x="1256" y="329" width="3" height="18" fill="#ff0000" />
<rect x="1265" y="313" width="1" height="17" fill="#000" />
<rect x="1263" y="316" width="5" height="13" fill="#000" />
<rect x="1264" y="317" width="3" height="11" fill="#ff0000" />
<rect x="1273" y="280" width="1" height="99" fill="#000" />
<rect x="1271" y="316" width="5" height="61" fill="#000" />
<rect x="1272" y="317" width="3" height="59" fill="#00ff00" />
<rect x="1281" y="367" width="1" height="54" fill="#000" />
<rect x="1279" y="376" width="5" height="43" fill="#000" />
<rect x="1280" y="377" width="3" height="41" fill="#00ff00" />
<rect x="1289" y="412" width="1" height="11" fill="#000" />
<rect x="1287" y="414" width="5" height="5" fill="#000" />
<rect x="1288" y="415" width="3" height="3" fill="#ff0000" />
<rect x="0" y="413" width="1644" height="1" fill="#000" />
<path fill="#38b070" d="M1002,453h1v1h-1zM1144,453h2v1h-2zM14,222h1v1h-1zM153,222h1v1h-1zM823,222h1v1h-1zM260,29h1v1h-1zM321,29h18v1h-18zM698,29h1v1h-1zM766,29h1v1h-1zM255,36h1v1h-1zM350,36h1v1h-1zM695,36h1v1h-1zM769,36h1v1h-1zM189,164h1v1h-1zM806,164h1v1h-1zM991,443h1v1h-1zM1155,443h1v1h-1zM17,231h1v1h-1zM125,231h1v1h-1zM825,231h1v1h-1zM253,40h1v1h-1zM364,40h1v1h-1zM376,40h13v1h-13zM694,40h1v1h-1zM771,40h1v1h-1zM235,81h1v1h-1zM645,81h3v1h-3zM650,81h1v1h-1zM785,81h1v1h-1zM880,411h1v1h-1zM893,411h22v1h-22zM1173,411h1v1h-1zM241,67h1v1h-1zM520,67h5v1h-5zM531,67h4v1h-4zM539,67h4v1h-4zM578,67h2v1h-2zM662,67h1v1h-1zM780,67h1v1h-1zM16,229h1v1h-1zM126,229h1v1h-1zM136,229h10v1h-10zM825,229h1v1h-1zM261,27h1v1h-1zM318,27h1v1h-1zM699,27h1v1h-1zM765,27h1v1h-1zM997,449h2v1h-2zM1149,449h1v1h-1zM265,22h1v1h-1zM310,22h2v1h-2zM701,22h1v1h-1zM762,22h1v1h-1zM6,194h1v1h-1zM171,194h1v1h-1zM815,194h1v1h-1zM26,260h1v1h-1zM84,260h1v1h-1zM832,260h1v1h-1zM1250,260h2v1h-2zM1275,260h2v1h-2zM27,264h1v1h-1zM81,264h1v1h-1zM833,264h1v1h-1zM1244,264h1v1h-1zM1283,264h1v1h-1zM243,64h1v1h-1zM514,64h2v1h-2zM557,64h3v1h-3zM571,64h2v1h-2zM666,64h2v1h-2zM779,64h1v1h-1zM249,48h1v1h-1zM405,48h2v1h-2zM691,48h1v1h-1zM774,48h1v1h-1zM1009,462h1v1h-1zM1119,462h2v1h-2zM1123,462h4v1h-4zM1130,462h1v1h-1zM966,429h2v1h-2zM1165,429h1v1h-1zM9,205h1v1h-1zM166,205h1v1h-1zM818,205h1v1h-1zM26,261h1v1h-1zM83,261h1v1h-1zM832,261h1v1h-1zM1249,261h1v1h-1zM1277,261h3v1h-3zM29,269h1v1h-1zM77,269h1v1h-1zM834,269h1v1h-1zM1238,269h1v1h-1zM1288,269h1v1h-1zM16,227h1v1h-1zM128,227h1v1h-1zM131,227h2v1h-2zM147,227h1v1h-1zM824,227h1v1h-1zM848,349h1v1h-1zM1193,349h1v1h-1zM848,348h1v1h-1zM1194,348h1v1h-1zM186,167h1v1h-1zM807,167h1v1h-1zM879,410h1v1h-1zM1173,410h1v1h-1zM19,237h1v1h-1zM116,237h3v1h-3zM827,237h1v1h-1zM851,359h1v1h-1zM1189,359h1v1h-1zM238,75h1v1h-1zM591,75h2v1h-2zM654,75h1v1h-1zM783,75h1v1h-1zM842,310h1v1h-1zM1207,310h1v1h-1zM31,274h1v1h-1zM60,274h5v1h-5zM835,274h1v1h-1zM1233,274h1v1h-1zM20,241h1v1h-1zM104,241h3v1h-3zM827,241h1v1h-1zM245,58h1v1h-1zM447,58h14v1h-14zM677,58h2v1h-2zM777,58h1v1h-1zM237,76h1v1h-1zM593,76h2v1h-2zM653,76h1v1h-1zM784,76h1v1h-1zM1012,467h1v1h-1zM1085,467h2v1h-2zM1101,467h13v1h-13zM252,41h1v1h-1zM365,41h2v1h-2zM373,41h3v1h-3zM389,41h6v1h-6zM693,41h1v1h-1zM771,41h1v1h-1zM236,79h1v1h-1zM605,79h38v1h-38zM651,79h1v1h-1zM785,79h1v1h-1zM16,226h1v1h-1zM129,226h2v1h-2zM148,226h1v1h-1zM824,226h1v1h-1zM22,247h1v1h-1zM95,247h1v1h-1zM829,247h1v1h-1zM32,276h1v1h-1zM55,276h3v1h-3zM835,276h1v1h-1zM1229,276h2v1h-2zM244,60h1v1h-1zM469,60h24v1h-24zM499,60h4v1h-4zM674,60h2v1h-2zM778,60h1v1h-1zM233,86h1v1h-1zM787,86h1v1h-1zM244,59h1v1h-1zM461,59h8v1h-8zM493,59h6v1h-6zM676,59h1v1h-1zM778,59h1v1h-1zM27,263h1v1h-1zM82,263h1v1h-1zM832,263h1v1h-1zM1245,263h2v1h-2zM1282,263h1v1h-1zM1015,476h1v1h-1zM1055,476h6v1h-6zM1069,476h5v1h-5zM13,219h1v1h-1zM156,219h1v1h-1zM822,219h1v1h-1zM993,445h1v1h-1zM1153,445h1v1h-1zM1012,469h1v1h-1zM1082,469h2v1h-2zM228,96h1v1h-1zM790,96h1v1h-1zM29,270h1v1h-1zM76,270h1v1h-1zM834,270h1v1h-1zM1237,270h1v1h-1zM1289,270h2v1h-2zM207,142h1v1h-1zM801,142h1v1h-1zM216,126h1v1h-1zM797,126h1v1h-1zM838,289h1v1h-1zM1217,289h1v1h-1zM30,271h1v1h-1zM75,271h1v1h-1zM834,271h1v1h-1zM1236,271h1v1h-1zM1291,271h2v1h-2zM1019,486h1v1h-1zM1041,486h1v1h-1zM31,273h1v1h-1zM65,273h6v1h-6zM834,273h1v1h-1zM1234,273h1v1h-1zM1296,273h2v1h-2zM24,253h1v1h-1zM89,253h1v1h-1zM830,253h1v1h-1zM1263,253h2v1h-2zM1266,253h1v1h-1zM23,251h1v1h-1zM90,251h1v1h-1zM830,251h1v1h-1zM36,280h3v1h-3zM42,280h4v1h-4zM836,280h1v1h-1zM1224,280h1v1h-1zM248,50h1v1h-1zM408,50h1v1h-1zM690,50h1v1h-1zM774,50h1v1h-1zM240,70h1v1h-1zM583,70h2v1h-2zM658,70h1v1h-1zM782,70h1v1h-1zM1,178h1v1h-1zM179,178h1v1h-1zM809,178h1v1h-1zM256,34h1v1h-1zM347,34h2v1h-2zM696,34h1v1h-1zM768,34h1v1h-1zM4,187h1v1h-1zM175,187h1v1h-1zM812,187h1v1h-1zM848,350h1v1h-1zM1193,350h1v1h-1zM981,436h2v1h-2zM1160,436h1v1h-1zM184,170h1v1h-1zM807,170h1v1h-1zM1004,455h1v1h-1zM1139,455h2v1h-2zM844,323h1v1h-1zM1203,323h1v1h-1zM2,181h1v1h-1zM178,181h1v1h-1zM810,181h1v1h-1zM854,367h1v1h-1zM1185,367h1v1h-1zM973,432h3v1h-3zM1163,432h1v1h-1zM25,256h1v1h-1zM87,256h1v1h-1zM831,256h1v1h-1zM1258,256h2v1h-2zM1269,256h2v1h-2zM250,45h1v1h-1zM402,45h1v1h-1zM692,45h1v1h-1zM772,45h1v1h-1zM837,283h1v1h-1zM1222,283h1v1h-1zM34,279h2v1h-2zM46,279h4v1h-4zM836,279h1v1h-1zM1225,279h1v1h-1zM28,267h1v1h-1zM78,267h1v1h-1zM833,267h1v1h-1zM1240,267h1v1h-1zM1286,267h1v1h-1zM21,245h1v1h-1zM98,245h1v1h-1zM828,245h1v1h-1zM28,266h1v1h-1zM79,266h1v1h-1zM833,266h1v1h-1zM1241,266h1v1h-1zM1285,266h1v1h-1zM858,378h1v1h-1zM1182,378h1v1h-1zM951,426h11v1h-11zM1168,426h1v1h-1zM200,149h1v1h-1zM803,149h1v1h-1zM1011,466h1v1h-1zM1087,466h2v1h-2zM1093,466h8v1h-8zM1114,466h1v1h-1zM242,65h1v1h-1zM516,65h2v1h-2zM555,65h2v1h-2zM573,65h3v1h-3zM665,65h1v1h-1zM780,65h1v1h-1zM247,52h1v1h-1zM413,52h14v1h-14zM688,52h2v1h-2zM775,52h1v1h-1zM224,105h1v1h-1zM793,105h1v1h-1zM215,128h1v1h-1zM798,128h1v1h-1zM247,53h1v1h-1zM427,53h4v1h-4zM686,53h2v1h-2zM775,53h1v1h-1zM263,25h1v1h-1zM315,25h2v1h-2zM700,25h1v1h-1zM764,25h1v1h-1zM847,341h1v1h-1zM1196,341h1v1h-1zM870,400h1v1h-1zM1176,400h1v1h-1zM195,155h1v1h-1zM804,155h1v1h-1zM246,54h1v1h-1zM431,54h4v1h-4zM684,54h2v1h-2zM776,54h1v1h-1zM1024,501h1v1h-1zM1027,501h2v1h-2zM243,63h1v1h-1zM511,63h3v1h-3zM560,63h11v1h-11zM668,63h2v1h-2zM779,63h1v1h-1zM15,224h1v1h-1zM151,224h1v1h-1zM823,224h1v1h-1zM243,62h1v1h-1zM507,62h4v1h-4zM670,62h2v1h-2zM779,62h1v1h-1zM188,165h1v1h-1zM806,165h1v1h-1zM254,39h1v1h-1zM362,39h2v1h-2zM694,39h1v1h-1zM770,39h1v1h-1zM223,109h1v1h-1zM794,109h1v1h-1zM239,72h1v1h-1zM586,72h2v1h-2zM656,72h1v1h-1zM782,72h1v1h-1zM25,257h1v1h-1zM86,257h1v1h-1zM831,257h1v1h-1zM1256,257h2v1h-2zM1271,257h1v1h-1zM976,433h2v1h-2zM1162,433h1v1h-1zM1005,457h1v1h-1zM1136,457h1v1h-1zM7,197h1v1h-1zM170,197h1v1h-1zM816,197h1v1h-1zM1013,471h1v1h-1zM1079,471h2v1h-2zM231,90h1v1h-1zM788,90h1v1h-1zM19,236h1v1h-1zM119,236h2v1h-2zM826,236h1v1h-1zM237,78h1v1h-1zM599,78h6v1h-6zM652,78h1v1h-1zM784,78h1v1h-1zM930,419h2v1h-2zM1171,419h1v1h-1zM10,207h1v1h-1zM165,207h1v1h-1zM819,207h1v1h-1zM7,196h1v1h-1zM170,196h1v1h-1zM815,196h1v1h-1zM1014,472h1v1h-1zM1078,472h1v1h-1zM852,363h1v1h-1zM1187,363h1v1h-1zM249,47h1v1h-1zM404,47h1v1h-1zM691,47h1v1h-1zM773,47h1v1h-1zM246,56h1v1h-1zM439,56h4v1h-4zM681,56h1v1h-1zM777,56h1v1h-1zM846,335h1v1h-1zM1199,335h1v1h-1zM837,286h1v1h-1zM1219,286h1v1h-1zM266,21h2v1h-2zM308,21h2v1h-2zM702,21h1v1h-1zM762,21h1v1h-1zM1023,498h1v1h-1zM1031,498h2v1h-2zM941,424h6v1h-6zM1169,424h1v1h-1zM11,210h1v1h-1zM163,210h1v1h-1zM819,210h1v1h-1zM194,157h1v1h-1zM804,157h1v1h-1zM220,117h1v1h-1zM795,117h1v1h-1zM16,228h1v1h-1zM127,228h1v1h-1zM133,228h3v1h-3zM146,228h1v1h-1zM824,228h1v1h-1zM219,118h1v1h-1zM796,118h1v1h-1zM32,275h1v1h-1zM58,275h2v1h-2zM835,275h1v1h-1zM1231,275h2v1h-2zM14,221h1v1h-1zM154,221h1v1h-1zM823,221h1v1h-1zM844,321h1v1h-1zM1204,321h1v1h-1zM28,265h1v1h-1zM80,265h1v1h-1zM833,265h1v1h-1zM1242,265h2v1h-2zM1284,265h1v1h-1zM256,35h1v1h-1zM349,35h1v1h-1zM695,35h1v1h-1zM769,35h1v1h-1zM189,163h1v1h-1zM806,163h1v1h-1zM222,111h1v1h-1zM794,111h1v1h-1zM843,315h1v1h-1zM1206,315h1v1h-1zM205,144h1v1h-1zM801,144h1v1h-1zM1006,458h1v1h-1zM1135,458h1v1h-1zM853,364h1v1h-1zM1187,364h1v1h-1zM258,32h1v1h-1zM344,32h2v1h-2zM697,32h1v1h-1zM767,32h1v1h-1zM230,93h1v1h-1zM789,93h1v1h-1zM245,57h1v1h-1zM443,57h4v1h-4zM679,57h2v1h-2zM777,57h1v1h-1zM231,91h1v1h-1zM788,91h1v1h-1zM257,33h1v1h-1zM346,33h1v1h-1zM696,33h1v1h-1zM768,33h1v1h-1zM859,380h1v1h-1zM1182,380h1v1h-1zM854,366h1v1h-1zM1186,366h1v1h-1zM933,421h2v1h-2zM1170,421h1v1h-1zM860,381h1v1h-1zM1182,381h1v1h-1zM226,101h1v1h-1zM791,101h1v1h-1zM202,147h1v1h-1zM802,147h1v1h-1zM226,100h1v1h-1zM791,100h1v1h-1zM996,448h1v1h-1zM1150,448h1v1h-1zM15,225h1v1h-1zM149,225h2v1h-2zM824,225h1v1h-1zM238,74h1v1h-1zM589,74h2v1h-2zM655,74h1v1h-1zM783,74h1v1h-1zM225,102h1v1h-1zM792,102h1v1h-1zM23,249h1v1h-1zM92,249h2v1h-2zM829,249h1v1h-1zM846,338h1v1h-1zM1198,338h1v1h-1zM1013,470h1v1h-1zM1081,470h1v1h-1zM964,428h2v1h-2zM1166,428h1v1h-1zM867,397h1v1h-1zM1177,397h1v1h-1zM922,414h2v1h-2zM1172,414h1v1h-1zM2,180h1v1h-1zM178,180h1v1h-1zM810,180h1v1h-1zM842,309h1v1h-1zM1208,309h1v1h-1zM3,184h1v1h-1zM176,184h1v1h-1zM811,184h1v1h-1zM844,324h1v1h-1zM1203,324h1v1h-1zM971,431h2v1h-2zM1164,431h1v1h-1zM962,427h2v1h-2zM1167,427h1v1h-1zM841,304h1v1h-1zM1210,304h1v1h-1zM1012,468h1v1h-1zM1084,468h1v1h-1zM208,141h1v1h-1zM801,141h1v1h-1zM229,95h1v1h-1zM790,95h1v1h-1zM845,327h1v1h-1zM1202,327h1v1h-1zM838,288h1v1h-1zM1218,288h1v1h-1zM241,69h1v1h-1zM581,69h2v1h-2zM659,69h2v1h-2zM781,69h1v1h-1zM1009,461h1v1h-1zM1121,461h2v1h-2zM1131,461h1v1h-1zM865,393h1v1h-1zM1178,393h1v1h-1zM992,444h1v1h-1zM1154,444h1v1h-1zM1019,485h1v1h-1zM1042,485h1v1h-1zM248,49h1v1h-1zM407,49h1v1h-1zM690,49h1v1h-1zM774,49h1v1h-1zM246,55h1v1h-1zM435,55h4v1h-4zM682,55h2v1h-2zM776,55h1v1h-1zM1010,463h1v1h-1zM1118,463h1v1h-1zM1127,463h3v1h-3zM252,42h1v1h-1zM367,42h2v1h-2zM371,42h2v1h-2zM395,42h2v1h-2zM693,42h1v1h-1zM771,42h1v1h-1zM254,38h1v1h-1zM353,38h9v1h-9zM694,38h1v1h-1zM770,38h1v1h-1zM937,423h4v1h-4zM1169,423h1v1h-1zM185,169h1v1h-1zM807,169h1v1h-1zM27,262h1v1h-1zM82,262h1v1h-1zM832,262h1v1h-1zM1247,262h2v1h-2zM1280,262h2v1h-2zM881,412h12v1h-12zM915,412h4v1h-4zM1173,412h1v1h-1zM19,239h1v1h-1zM111,239h3v1h-3zM827,239h1v1h-1zM842,312h1v1h-1zM1207,312h1v1h-1zM845,330h1v1h-1zM1201,330h1v1h-1zM25,255h1v1h-1zM87,255h1v1h-1zM831,255h1v1h-1zM1260,255h1v1h-1zM1268,255h1v1h-1zM1008,460h1v1h-1zM1132,460h1v1h-1zM850,357h1v1h-1zM1190,357h1v1h-1zM232,88h1v1h-1zM787,88h1v1h-1zM858,377h1v1h-1zM1183,377h1v1h-1zM11,212h1v1h-1zM162,212h1v1h-1zM820,212h1v1h-1zM236,80h1v1h-1zM643,80h2v1h-2zM650,80h1v1h-1zM785,80h1v1h-1zM250,46h1v1h-1zM403,46h1v1h-1zM691,46h1v1h-1zM773,46h1v1h-1zM12,213h1v1h-1zM162,213h1v1h-1zM820,213h1v1h-1zM847,340h1v1h-1zM1197,340h1v1h-1zM838,291h1v1h-1zM1216,291h1v1h-1zM865,394h1v1h-1zM1178,394h1v1h-1zM197,153h1v1h-1zM803,153h1v1h-1zM15,223h1v1h-1zM152,223h1v1h-1zM823,223h1v1h-1zM264,24h1v1h-1zM314,24h1v1h-1zM700,24h1v1h-1zM763,24h1v1h-1zM843,314h1v1h-1zM1206,314h1v1h-1zM196,154h1v1h-1zM804,154h1v1h-1zM223,108h1v1h-1zM793,108h1v1h-1zM235,82h1v1h-1zM648,82h2v1h-2zM786,82h1v1h-1zM212,135h1v1h-1zM799,135h1v1h-1zM1025,503h1v1h-1zM999,450h1v1h-1zM1148,450h1v1h-1zM1020,488h1v1h-1zM1040,488h1v1h-1zM1000,451h1v1h-1zM1147,451h1v1h-1zM26,259h1v1h-1zM85,259h1v1h-1zM831,259h1v1h-1zM1252,259h2v1h-2zM1273,259h2v1h-2zM1005,456h1v1h-1zM1137,456h2v1h-2zM845,332h1v1h-1zM1200,332h1v1h-1zM844,325h1v1h-1zM1202,325h1v1h-1zM25,258h1v1h-1zM85,258h1v1h-1zM831,258h1v1h-1zM1254,258h2v1h-2zM1272,258h1v1h-1zM837,285h1v1h-1zM1220,285h1v1h-1zM22,246h1v1h-1zM96,246h2v1h-2zM829,246h1v1h-1zM30,272h1v1h-1zM71,272h4v1h-4zM834,272h1v1h-1zM1235,272h1v1h-1zM1293,272h3v1h-3zM199,150h1v1h-1zM803,150h1v1h-1zM9,203h1v1h-1zM167,203h1v1h-1zM818,203h1v1h-1zM223,107h1v1h-1zM793,107h1v1h-1zM847,343h1v1h-1zM1196,343h1v1h-1zM871,402h1v1h-1zM1176,402h1v1h-1zM838,290h1v1h-1zM1217,290h1v1h-1zM844,320h1v1h-1zM1204,320h1v1h-1zM222,110h1v1h-1zM794,110h1v1h-1zM211,137h1v1h-1zM800,137h1v1h-1zM1015,475h1v1h-1zM1074,475h1v1h-1zM4,189h1v1h-1zM174,189h1v1h-1zM813,189h1v1h-1zM995,447h1v1h-1zM1151,447h1v1h-1zM230,92h1v1h-1zM789,92h1v1h-1zM840,297h1v1h-1zM1213,297h1v1h-1zM206,143h1v1h-1zM801,143h1v1h-1zM24,252h1v1h-1zM90,252h1v1h-1zM830,252h1v1h-1zM1265,252h1v1h-1zM7,199h1v1h-1zM169,199h1v1h-1zM816,199h1v1h-1zM861,385h1v1h-1zM1180,385h1v1h-1zM187,166h1v1h-1zM806,166h1v1h-1zM932,420h1v1h-1zM1170,420h1v1h-1zM203,146h1v1h-1zM802,146h1v1h-1zM10,209h1v1h-1zM164,209h1v1h-1zM819,209h1v1h-1zM1014,474h1v1h-1zM1075,474h2v1h-2zM251,43h1v1h-1zM369,43h2v1h-2zM397,43h3v1h-3zM692,43h1v1h-1zM772,43h1v1h-1zM183,173h1v1h-1zM808,173h1v1h-1zM846,337h1v1h-1zM1198,337h1v1h-1zM1016,477h1v1h-1zM1051,477h4v1h-4zM1061,477h8v1h-8zM198,152h1v1h-1zM803,152h1v1h-1zM29,268h1v1h-1zM78,268h1v1h-1zM833,268h1v1h-1zM1239,268h1v1h-1zM1287,268h1v1h-1zM1020,489h1v1h-1zM1039,489h1v1h-1zM867,396h1v1h-1zM1178,396h1v1h-1zM847,342h1v1h-1zM1196,342h1v1h-1zM848,346h1v1h-1zM1195,346h1v1h-1zM3,183h1v1h-1zM177,183h1v1h-1zM811,183h1v1h-1zM873,404h1v1h-1zM1175,404h1v1h-1zM1024,500h1v1h-1zM1029,500h1v1h-1zM214,130h1v1h-1zM798,130h1v1h-1zM255,37h1v1h-1zM351,37h2v1h-2zM695,37h1v1h-1zM769,37h1v1h-1zM983,437h2v1h-2zM1159,437h1v1h-1zM843,317h1v1h-1zM1205,317h1v1h-1zM229,94h1v1h-1zM789,94h1v1h-1zM241,68h1v1h-1zM535,68h4v1h-4zM580,68h1v1h-1zM661,68h1v1h-1zM781,68h1v1h-1zM18,233h1v1h-1zM123,233h1v1h-1zM826,233h1v1h-1zM6,195h1v1h-1zM171,195h1v1h-1zM815,195h1v1h-1zM860,383h1v1h-1zM1181,383h1v1h-1zM968,430h3v1h-3zM1165,430h1v1h-1zM225,104h1v1h-1zM792,104h1v1h-1zM1011,465h1v1h-1zM1089,465h4v1h-4zM1115,465h2v1h-2zM1001,452h1v1h-1zM1146,452h1v1h-1zM242,66h1v1h-1zM518,66h2v1h-2zM525,66h6v1h-6zM543,66h12v1h-12zM576,66h2v1h-2zM663,66h2v1h-2zM780,66h1v1h-1zM192,159h1v1h-1zM805,159h1v1h-1zM876,407h1v1h-1zM1174,407h1v1h-1zM24,254h1v1h-1zM88,254h1v1h-1zM830,254h1v1h-1zM1261,254h2v1h-2zM1267,254h1v1h-1zM19,238h1v1h-1zM114,238h2v1h-2zM827,238h1v1h-1zM244,61h1v1h-1zM503,61h4v1h-4zM672,61h2v1h-2zM778,61h1v1h-1zM842,311h1v1h-1zM1207,311h1v1h-1zM857,375h1v1h-1zM1183,375h1v1h-1zM247,51h1v1h-1zM409,51h4v1h-4zM689,51h1v1h-1zM775,51h1v1h-1zM237,77h1v1h-1zM595,77h4v1h-4zM653,77h1v1h-1zM784,77h1v1h-1zM850,356h1v1h-1zM1190,356h1v1h-1zM12,214h1v1h-1zM161,214h1v1h-1zM821,214h1v1h-1zM233,87h1v1h-1zM787,87h1v1h-1zM846,333h1v1h-1zM1199,333h1v1h-1zM845,329h1v1h-1zM1201,329h1v1h-1zM39,281h3v1h-3zM836,281h1v1h-1zM1223,281h1v1h-1zM216,127h1v1h-1zM798,127h1v1h-1zM866,395h1v1h-1zM1178,395h1v1h-1zM1019,487h1v1h-1zM1040,487h1v1h-1zM842,313h1v1h-1zM1206,313h1v1h-1zM869,399h1v1h-1zM1177,399h1v1h-1zM212,134h1v1h-1zM799,134h1v1h-1zM1025,502h2v1h-2zM925,416h2v1h-2zM1171,416h1v1h-1zM849,351h1v1h-1zM1193,351h1v1h-1zM919,413h3v1h-3zM1172,413h1v1h-1zM233,85h1v1h-1zM787,85h1v1h-1zM184,171h1v1h-1zM807,171h1v1h-1zM2,182h1v1h-1zM177,182h1v1h-1zM810,182h1v1h-1zM854,368h1v1h-1zM1185,368h1v1h-1zM851,358h1v1h-1zM1189,358h1v1h-1zM13,216h1v1h-1zM160,216h1v1h-1zM821,216h1v1h-1zM855,369h1v1h-1zM1185,369h1v1h-1zM847,339h1v1h-1zM1197,339h1v1h-1zM264,23h1v1h-1zM312,23h2v1h-2zM701,23h1v1h-1zM763,23h1v1h-1zM22,248h1v1h-1zM94,248h1v1h-1zM829,248h1v1h-1zM224,106h1v1h-1zM793,106h1v1h-1zM215,129h1v1h-1zM798,129h1v1h-1zM12,215h1v1h-1zM161,215h1v1h-1zM821,215h1v1h-1zM871,401h1v1h-1zM1176,401h1v1h-1zM1018,483h1v1h-1zM1044,483h1v1h-1zM195,156h1v1h-1zM804,156h1v1h-1zM259,30h1v1h-1zM339,30h2v1h-2zM697,30h1v1h-1zM766,30h1v1h-1zM841,303h1v1h-1zM1210,303h1v1h-1zM211,136h1v1h-1zM800,136h1v1h-1zM4,188h1v1h-1zM174,188h1v1h-1zM812,188h1v1h-1zM251,44h1v1h-1zM400,44h2v1h-2zM692,44h1v1h-1zM772,44h1v1h-1zM7,198h1v1h-1zM169,198h1v1h-1zM816,198h1v1h-1zM1014,473h1v1h-1zM1077,473h1v1h-1zM183,172h1v1h-1zM808,172h1v1h-1zM837,287h1v1h-1zM1219,287h1v1h-1zM8,201h1v1h-1zM168,201h1v1h-1zM817,201h1v1h-1zM935,422h2v1h-2zM1170,422h1v1h-1zM872,403h1v1h-1zM1175,403h1v1h-1zM1024,499h1v1h-1zM1030,499h1v1h-1zM11,211h1v1h-1zM163,211h1v1h-1zM820,211h1v1h-1zM219,119h1v1h-1zM796,119h1v1h-1zM210,138h1v1h-1zM800,138h1v1h-1zM222,112h1v1h-1zM794,112h1v1h-1zM843,316h1v1h-1zM1205,316h1v1h-1zM21,244h1v1h-1zM99,244h1v1h-1zM828,244h1v1h-1zM853,365h1v1h-1zM1186,365h1v1h-1zM33,277h1v1h-1zM53,277h2v1h-2zM835,277h1v1h-1zM1228,277h1v1h-1zM860,382h1v1h-1zM1181,382h1v1h-1zM201,148h1v1h-1zM802,148h1v1h-1zM182,174h1v1h-1zM808,174h1v1h-1zM225,103h1v1h-1zM792,103h1v1h-1zM23,250h1v1h-1zM91,250h1v1h-1zM829,250h1v1h-1zM193,158h1v1h-1zM805,158h1v1h-1zM10,206h1v1h-1zM165,206h1v1h-1zM818,206h1v1h-1zM0,175h1v1h-1zM181,175h1v1h-1zM808,175h1v1h-1zM857,374h1v1h-1zM1183,374h1v1h-1zM3,185h1v1h-1zM176,185h1v1h-1zM811,185h1v1h-1zM875,406h1v1h-1zM1175,406h1v1h-1zM845,328h1v1h-1zM1201,328h1v1h-1zM213,132h1v1h-1zM799,132h1v1h-1zM191,161h1v1h-1zM805,161h1v1h-1zM849,352h1v1h-1zM1192,352h1v1h-1zM5,190h1v1h-1zM173,190h1v1h-1zM813,190h1v1h-1zM9,204h1v1h-1zM166,204h1v1h-1zM818,204h1v1h-1zM20,242h1v1h-1zM102,242h2v1h-2zM828,242h1v1h-1zM845,331h1v1h-1zM1200,331h1v1h-1zM838,292h1v1h-1zM1216,292h1v1h-1zM839,293h1v1h-1zM1215,293h1v1h-1zM841,302h1v1h-1zM1211,302h1v1h-1zM1018,482h1v1h-1zM1045,482h1v1h-1zM261,28h1v1h-1zM319,28h2v1h-2zM698,28h1v1h-1zM765,28h1v1h-1zM924,415h1v1h-1zM1172,415h1v1h-1zM204,145h1v1h-1zM802,145h1v1h-1zM851,360h1v1h-1zM1189,360h1v1h-1zM1021,491h1v1h-1zM1037,491h1v1h-1zM5,192h1v1h-1zM172,192h1v1h-1zM814,192h1v1h-1zM199,151h1v1h-1zM803,151h1v1h-1zM8,200h1v1h-1zM168,200h1v1h-1zM817,200h1v1h-1zM847,344h1v1h-1zM1195,344h1v1h-1zM927,417h2v1h-2zM1171,417h1v1h-1zM929,418h1v1h-1zM1171,418h1v1h-1zM841,305h1v1h-1zM1209,305h1v1h-1zM21,243h1v1h-1zM100,243h2v1h-2zM828,243h1v1h-1zM1007,459h1v1h-1zM1133,459h2v1h-2zM840,298h1v1h-1zM1213,298h1v1h-1zM862,386h1v1h-1zM1180,386h1v1h-1zM14,220h1v1h-1zM155,220h1v1h-1zM822,220h1v1h-1zM17,232h1v1h-1zM124,232h1v1h-1zM825,232h1v1h-1zM852,362h1v1h-1zM1188,362h1v1h-1zM20,240h1v1h-1zM107,240h4v1h-4zM827,240h1v1h-1zM1020,490h1v1h-1zM1038,490h1v1h-1zM868,398h1v1h-1zM1177,398h1v1h-1zM874,405h1v1h-1zM1175,405h1v1h-1zM218,121h1v1h-1zM796,121h1v1h-1zM985,438h1v1h-1zM1159,438h1v1h-1zM843,318h1v1h-1zM1205,318h1v1h-1zM0,176h1v1h-1zM181,176h1v1h-1zM809,176h1v1h-1zM214,131h1v1h-1zM799,131h1v1h-1zM840,300h1v1h-1zM1212,300h1v1h-1zM33,278h1v1h-1zM50,278h3v1h-3zM836,278h1v1h-1zM1226,278h2v1h-2zM3,186h1v1h-1zM175,186h1v1h-1zM812,186h1v1h-1zM841,307h1v1h-1zM1208,307h1v1h-1zM192,160h1v1h-1zM805,160h1v1h-1zM17,230h1v1h-1zM125,230h1v1h-1zM825,230h1v1h-1zM878,409h1v1h-1zM1174,409h1v1h-1zM877,408h1v1h-1zM1174,408h1v1h-1zM239,73h1v1h-1zM588,73h1v1h-1zM656,73h1v1h-1zM783,73h1v1h-1zM857,376h1v1h-1zM1183,376h1v1h-1zM846,334h1v1h-1zM1199,334h1v1h-1zM217,124h1v1h-1zM797,124h1v1h-1zM836,282h1v1h-1zM1223,282h1v1h-1zM859,379h1v1h-1zM1182,379h1v1h-1zM849,354h1v1h-1zM1191,354h1v1h-1zM855,370h1v1h-1zM1184,370h1v1h-1zM846,336h1v1h-1zM1198,336h1v1h-1zM1023,497h1v1h-1zM1033,497h1v1h-1zM13,217h1v1h-1zM159,217h1v1h-1zM821,217h1v1h-1zM1016,478h1v1h-1zM1049,478h2v1h-2zM258,31h1v1h-1zM341,31h3v1h-3zM697,31h1v1h-1zM767,31h1v1h-1zM852,361h1v1h-1zM1188,361h1v1h-1zM8,202h1v1h-1zM167,202h1v1h-1zM817,202h1v1h-1zM219,120h1v1h-1zM796,120h1v1h-1zM210,139h1v1h-1zM800,139h1v1h-1zM18,234h1v1h-1zM122,234h1v1h-1zM826,234h1v1h-1zM840,299h1v1h-1zM1212,299h1v1h-1zM1003,454h1v1h-1zM1141,454h3v1h-3zM234,83h1v1h-1zM786,83h1v1h-1zM862,388h1v1h-1zM1180,388h1v1h-1zM240,71h1v1h-1zM585,71h1v1h-1zM657,71h1v1h-1zM782,71h1v1h-1zM855,371h1v1h-1zM1184,371h1v1h-1zM986,439h1v1h-1zM1158,439h1v1h-1zM217,123h1v1h-1zM797,123h1v1h-1zM213,133h1v1h-1zM799,133h1v1h-1zM863,390h1v1h-1zM1179,390h1v1h-1zM190,162h1v1h-1zM805,162h1v1h-1zM1018,484h1v1h-1zM1043,484h1v1h-1zM849,353h1v1h-1zM1192,353h1v1h-1zM5,191h1v1h-1zM173,191h1v1h-1zM814,191h1v1h-1zM839,294h1v1h-1zM1215,294h1v1h-1zM947,425h4v1h-4zM1168,425h1v1h-1zM1023,496h1v1h-1zM1034,496h1v1h-1zM13,218h1v1h-1zM157,218h2v1h-2zM822,218h1v1h-1zM209,140h1v1h-1zM801,140h1v1h-1zM221,114h1v1h-1zM795,114h1v1h-1zM994,446h1v1h-1zM1152,446h1v1h-1zM1021,492h1v1h-1zM1037,492h1v1h-1zM6,193h1v1h-1zM172,193h1v1h-1zM814,193h1v1h-1zM227,99h1v1h-1zM791,99h1v1h-1zM841,306h1v1h-1zM1209,306h1v1h-1zM839,295h1v1h-1zM1214,295h1v1h-1zM989,442h2v1h-2zM1155,442h1v1h-1zM845,326h1v1h-1zM1202,326h1v1h-1zM862,387h1v1h-1zM1180,387h1v1h-1zM220,116h1v1h-1zM795,116h1v1h-1zM987,440h1v1h-1zM1157,440h1v1h-1zM262,26h1v1h-1zM317,26h1v1h-1zM699,26h1v1h-1zM764,26h1v1h-1zM228,97h1v1h-1zM790,97h1v1h-1zM1022,493h1v1h-1zM1036,493h1v1h-1zM843,319h1v1h-1zM1204,319h1v1h-1zM1,177h1v1h-1zM180,177h1v1h-1zM809,177h1v1h-1zM863,389h1v1h-1zM1179,389h1v1h-1zM218,122h1v1h-1zM797,122h1v1h-1zM842,308h1v1h-1zM1208,308h1v1h-1zM864,391h1v1h-1zM1179,391h1v1h-1zM856,373h1v1h-1zM1184,373h1v1h-1zM978,434h2v1h-2zM1162,434h1v1h-1zM980,435h1v1h-1zM1161,435h1v1h-1zM217,125h1v1h-1zM797,125h1v1h-1zM864,392h1v1h-1zM1179,392h1v1h-1zM1017,479h1v1h-1zM1048,479h1v1h-1zM221,113h1v1h-1zM795,113h1v1h-1zM849,355h1v1h-1zM1191,355h1v1h-1zM856,372h1v1h-1zM1184,372h1v1h-1zM186,168h1v1h-1zM807,168h1v1h-1zM227,98h1v1h-1zM791,98h1v1h-1zM848,345h1v1h-1zM1195,345h1v1h-1zM839,296h1v1h-1zM1214,296h1v1h-1zM1017,481h1v1h-1zM1046,481h1v1h-1zM220,115h1v1h-1zM795,115h1v1h-1zM232,89h1v1h-1zM788,89h1v1h-1zM18,235h1v1h-1zM121,235h1v1h-1zM826,235h1v1h-1zM848,347h1v1h-1zM1194,347h1v1h-1zM988,441h1v1h-1zM1156,441h1v1h-1zM234,84h1v1h-1zM786,84h1v1h-1zM861,384h1v1h-1zM1181,384h1v1h-1zM1,179h1v1h-1zM179,179h1v1h-1zM809,179h1v1h-1zM1022,495h1v1h-1zM1034,495h1v1h-1zM844,322h1v1h-1zM1203,322h1v1h-1zM840,301h1v1h-1zM1211,301h1v1h-1zM1022,494h1v1h-1zM1035,494h1v1h-1zM10,208h1v1h-1zM164,208h1v1h-1zM819,208h1v1h-1zM837,284h1v1h-1zM1221,284h1v1h-1zM1010,464h1v1h-1zM1117,464h1v1h-1zM1017,480h1v1h-1zM1047,480h1v1h-1z"/>
<path fill="#38b070" d="M936,508h1v1h-1zM1130,508h2v1h-2zM268,166h1v1h-1zM705,166h1v1h-1zM834,426h1v1h-1zM1226,426h1v1h-1zM132,304h1v1h-1zM773,304h1v1h-1zM253,185h1v1h-1zM717,185h1v1h-1zM324,113h2v1h-2zM445,113h8v1h-8zM559,113h6v1h-6zM573,113h6v1h-6zM29,345h2v1h-2zM45,345h4v1h-4zM791,345h1v1h-1zM267,167h1v1h-1zM706,167h1v1h-1zM905,491h1v1h-1zM1162,491h2v1h-2zM317,117h2v1h-2zM509,117h6v1h-6zM597,117h8v1h-8zM170,272h1v1h-1zM757,272h1v1h-1zM353,98h12v1h-12zM371,98h4v1h-4zM209,243h1v1h-1zM745,243h1v1h-1zM31,346h14v1h-14zM792,346h1v1h-1zM116,312h3v1h-3zM777,312h1v1h-1zM321,115h1v1h-1zM467,115h4v1h-4zM477,115h24v1h-24zM519,115h36v1h-36zM583,115h6v1h-6zM303,128h2v1h-2zM657,128h1v1h-1zM0,323h1v1h-1zM96,323h2v1h-2zM781,323h1v1h-1zM979,527h4v1h-4zM1087,527h3v1h-3zM330,110h2v1h-2zM408,110h13v1h-13zM185,260h1v1h-1zM752,260h1v1h-1zM114,313h2v1h-2zM777,313h1v1h-1zM23,342h2v1h-2zM59,342h6v1h-6zM790,342h1v1h-1zM6,328h1v1h-1zM90,328h1v1h-1zM784,328h1v1h-1zM225,221h1v1h-1zM734,221h1v1h-1zM346,102h2v1h-2zM387,102h2v1h-2zM230,213h1v1h-1zM730,213h1v1h-1zM349,100h2v1h-2zM379,100h4v1h-4zM844,442h1v1h-1zM1214,442h1v1h-1zM997,533h3v1h-3zM1055,533h14v1h-14zM926,501h2v1h-2zM1146,501h2v1h-2zM166,276h1v1h-1zM759,276h1v1h-1zM816,398h1v1h-1zM1254,398h1v1h-1zM930,503h1v1h-1zM1141,503h3v1h-3zM27,344h2v1h-2zM49,344h5v1h-5zM791,344h1v1h-1zM931,504h1v1h-1zM1139,504h2v1h-2zM316,118h1v1h-1zM605,118h38v1h-38zM822,407h1v1h-1zM1245,407h2v1h-2zM987,529h2v1h-2zM1080,529h3v1h-3zM834,427h1v1h-1zM1225,427h1v1h-1zM322,114h2v1h-2zM453,114h14v1h-14zM555,114h4v1h-4zM579,114h4v1h-4zM216,234h1v1h-1zM740,234h1v1h-1zM798,361h1v1h-1zM915,496h2v1h-2zM1154,496h2v1h-2zM215,235h1v1h-1zM741,235h1v1h-1zM835,428h1v1h-1zM1224,428h1v1h-1zM848,447h1v1h-1zM1210,447h1v1h-1zM867,460h1v1h-1zM1197,460h2v1h-2zM838,433h1v1h-1zM1221,433h1v1h-1zM255,182h1v1h-1zM715,182h1v1h-1zM868,461h1v1h-1zM1196,461h1v1h-1zM935,507h1v1h-1zM1132,507h2v1h-2zM213,237h1v1h-1zM742,237h1v1h-1zM254,183h1v1h-1zM716,183h1v1h-1zM804,375h1v1h-1zM1284,375h1v1h-1zM805,377h1v1h-1zM1279,377h3v1h-3zM276,154h1v1h-1zM695,154h1v1h-1zM340,105h2v1h-2zM395,105h4v1h-4zM224,223h1v1h-1zM735,223h1v1h-1zM823,408h1v1h-1zM1244,408h1v1h-1zM326,112h2v1h-2zM437,112h8v1h-8zM565,112h8v1h-8zM826,413h1v1h-1zM1239,413h1v1h-1zM937,509h1v1h-1zM1128,509h2v1h-2zM106,317h2v1h-2zM779,317h1v1h-1zM917,497h3v1h-3zM1153,497h1v1h-1zM938,510h2v1h-2zM1125,510h3v1h-3zM898,487h2v1h-2zM1170,487h1v1h-1zM284,145h1v1h-1zM686,145h2v1h-2zM873,466h1v1h-1zM1191,466h1v1h-1zM14,335h1v1h-1zM80,335h1v1h-1zM787,335h1v1h-1zM309,123h2v1h-2zM651,123h1v1h-1zM334,108h2v1h-2zM404,108h2v1h-2zM880,472h1v1h-1zM1185,472h1v1h-1zM810,387h1v1h-1zM1264,387h1v1h-1zM148,291h2v1h-2zM766,291h1v1h-1zM933,506h2v1h-2zM1134,506h2v1h-2zM983,528h4v1h-4zM1083,528h4v1h-4zM862,457h2v1h-2zM1201,457h1v1h-1zM855,453h2v1h-2zM1205,453h1v1h-1zM995,532h2v1h-2zM1069,532h6v1h-6zM813,393h1v1h-1zM1259,393h1v1h-1zM960,519h2v1h-2zM1104,519h3v1h-3zM5,327h1v1h-1zM91,327h1v1h-1zM783,327h1v1h-1zM1018,541h2v1h-2zM1035,541h2v1h-2zM7,329h2v1h-2zM88,329h2v1h-2zM784,329h1v1h-1zM890,481h1v1h-1zM1177,481h1v1h-1zM332,109h2v1h-2zM406,109h2v1h-2zM805,378h1v1h-1zM1275,378h4v1h-4zM275,156h1v1h-1zM697,156h1v1h-1zM832,424h1v1h-1zM1228,424h1v1h-1zM351,99h2v1h-2zM375,99h4v1h-4zM283,146h1v1h-1zM688,146h2v1h-2zM270,162h1v1h-1zM702,162h1v1h-1zM217,232h1v1h-1zM739,232h1v1h-1zM336,107h2v1h-2zM402,107h2v1h-2zM1016,540h2v1h-2zM1037,540h3v1h-3zM796,357h1v1h-1zM875,468h1v1h-1zM1189,468h1v1h-1zM142,295h1v1h-1zM768,295h1v1h-1zM272,160h1v1h-1zM700,160h1v1h-1zM328,111h2v1h-2zM421,111h16v1h-16zM195,253h2v1h-2zM749,253h1v1h-1zM836,429h1v1h-1zM1224,429h1v1h-1zM797,358h1v1h-1zM840,436h1v1h-1zM1218,436h1v1h-1zM257,180h1v1h-1zM714,180h1v1h-1zM881,473h1v1h-1zM1184,473h1v1h-1zM266,169h1v1h-1zM707,169h1v1h-1zM850,450h2v1h-2zM1207,450h1v1h-1zM281,148h1v1h-1zM691,148h1v1h-1zM870,463h1v1h-1zM1194,463h1v1h-1zM803,373h1v1h-1zM1287,373h2v1h-2zM247,192h1v1h-1zM720,192h1v1h-1zM191,256h2v1h-2zM750,256h1v1h-1zM201,249h1v1h-1zM747,249h1v1h-1zM338,106h2v1h-2zM399,106h3v1h-3zM2,325h2v1h-2zM94,325h1v1h-1zM782,325h1v1h-1zM242,198h1v1h-1zM723,198h1v1h-1zM164,278h1v1h-1zM760,278h1v1h-1zM239,202h1v1h-1zM725,202h1v1h-1zM941,512h2v1h-2zM1121,512h2v1h-2zM178,265h1v1h-1zM754,265h1v1h-1zM842,439h1v1h-1zM1216,439h1v1h-1zM1024,544h3v1h-3zM811,390h1v1h-1zM1261,390h1v1h-1zM847,446h1v1h-1zM1211,446h1v1h-1zM1000,534h3v1h-3zM1051,534h4v1h-4zM253,184h1v1h-1zM716,184h1v1h-1zM928,502h2v1h-2zM1144,502h2v1h-2zM154,287h1v1h-1zM764,287h1v1h-1zM802,371h1v1h-1zM1291,371h4v1h-4zM269,164h1v1h-1zM703,164h1v1h-1zM824,410h1v1h-1zM1242,410h1v1h-1zM19,339h1v1h-1zM74,339h2v1h-2zM789,339h1v1h-1zM876,469h1v1h-1zM1188,469h1v1h-1zM858,455h2v1h-2zM1203,455h1v1h-1zM230,214h1v1h-1zM731,214h1v1h-1zM908,493h2v1h-2zM1159,493h2v1h-2zM21,341h2v1h-2zM65,341h6v1h-6zM789,341h1v1h-1zM840,435h1v1h-1zM1219,435h1v1h-1zM301,130h1v1h-1zM660,130h1v1h-1zM10,331h1v1h-1zM86,331h1v1h-1zM785,331h1v1h-1zM140,297h1v1h-1zM769,297h1v1h-1zM342,104h2v1h-2zM392,104h3v1h-3zM943,513h2v1h-2zM1119,513h2v1h-2zM1003,535h2v1h-2zM1048,535h3v1h-3zM365,97h6v1h-6zM951,516h4v1h-4zM1114,516h2v1h-2zM175,268h1v1h-1zM756,268h1v1h-1zM838,432h1v1h-1zM1221,432h1v1h-1zM1008,537h3v1h-3zM1044,537h2v1h-2zM198,251h1v1h-1zM748,251h1v1h-1zM860,456h2v1h-2zM1202,456h1v1h-1zM812,391h1v1h-1zM1261,391h1v1h-1zM989,530h3v1h-3zM1077,530h3v1h-3zM883,475h1v1h-1zM1182,475h1v1h-1zM206,245h1v1h-1zM745,245h1v1h-1zM112,314h2v1h-2zM777,314h1v1h-1zM853,452h2v1h-2zM1205,452h1v1h-1zM186,259h2v1h-2zM752,259h1v1h-1zM176,267h1v1h-1zM755,267h1v1h-1zM224,222h1v1h-1zM735,222h1v1h-1zM236,205h1v1h-1zM727,205h1v1h-1zM818,400h1v1h-1zM1253,400h1v1h-1zM1020,542h2v1h-2zM1031,542h4v1h-4zM159,283h1v1h-1zM762,283h1v1h-1zM947,515h4v1h-4zM1116,515h1v1h-1zM1013,539h3v1h-3zM1040,539h2v1h-2zM103,319h2v1h-2zM780,319h1v1h-1zM1005,536h3v1h-3zM1046,536h2v1h-2zM288,141h1v1h-1zM679,141h2v1h-2zM307,125h1v1h-1zM653,125h2v1h-2zM123,309h3v1h-3zM775,309h1v1h-1zM804,376h1v1h-1zM1282,376h2v1h-2zM849,449h1v1h-1zM1208,449h1v1h-1zM973,525h3v1h-3zM1092,525h2v1h-2zM280,149h1v1h-1zM691,149h1v1h-1zM964,521h2v1h-2zM1100,521h2v1h-2zM248,190h1v1h-1zM719,190h1v1h-1zM1,324h1v1h-1zM95,324h1v1h-1zM782,324h1v1h-1zM275,155h1v1h-1zM696,155h1v1h-1zM806,380h1v1h-1zM1272,380h1v1h-1zM157,284h2v1h-2zM763,284h1v1h-1zM279,151h1v1h-1zM693,151h1v1h-1zM268,165h1v1h-1zM704,165h1v1h-1zM287,142h1v1h-1zM681,142h1v1h-1zM291,138h1v1h-1zM674,138h2v1h-2zM296,134h1v1h-1zM666,134h2v1h-2zM247,191h1v1h-1zM720,191h1v1h-1zM264,171h1v1h-1zM708,171h1v1h-1zM202,248h1v1h-1zM747,248h1v1h-1zM884,476h1v1h-1zM1181,476h1v1h-1zM25,343h2v1h-2zM54,343h5v1h-5zM790,343h1v1h-1zM239,201h1v1h-1zM725,201h1v1h-1zM179,264h2v1h-2zM754,264h1v1h-1zM811,389h1v1h-1zM1262,389h1v1h-1zM829,419h1v1h-1zM1232,419h1v1h-1zM259,178h1v1h-1zM713,178h1v1h-1zM344,103h2v1h-2zM389,103h3v1h-3zM274,157h1v1h-1zM698,157h1v1h-1zM815,395h1v1h-1zM1257,395h1v1h-1zM228,217h1v1h-1zM732,217h1v1h-1zM155,286h1v1h-1zM764,286h1v1h-1zM133,303h1v1h-1zM772,303h1v1h-1zM920,498h2v1h-2zM1151,498h2v1h-2zM162,280h1v1h-1zM761,280h1v1h-1zM793,349h1v1h-1zM227,218h1v1h-1zM733,218h1v1h-1zM922,499h2v1h-2zM1149,499h2v1h-2zM912,495h3v1h-3zM1156,495h1v1h-1zM235,206h1v1h-1zM727,206h1v1h-1zM251,187h1v1h-1zM718,187h1v1h-1zM211,240h1v1h-1zM743,240h1v1h-1zM797,360h1v1h-1zM98,322h1v1h-1zM781,322h1v1h-1zM319,116h2v1h-2zM471,116h6v1h-6zM501,116h8v1h-8zM515,116h4v1h-4zM589,116h8v1h-8zM246,193h1v1h-1zM721,193h1v1h-1zM857,454h1v1h-1zM1204,454h1v1h-1zM250,188h1v1h-1zM718,188h1v1h-1zM302,129h1v1h-1zM658,129h2v1h-2zM807,381h1v1h-1zM1271,381h1v1h-1zM844,441h1v1h-1zM1215,441h1v1h-1zM971,524h2v1h-2zM1094,524h2v1h-2zM824,411h1v1h-1zM1241,411h1v1h-1zM976,526h3v1h-3zM1090,526h2v1h-2zM825,412h1v1h-1zM1240,412h1v1h-1zM285,144h1v1h-1zM684,144h2v1h-2zM828,417h1v1h-1zM1234,417h1v1h-1zM266,168h1v1h-1zM706,168h1v1h-1zM821,406h1v1h-1zM1247,406h1v1h-1zM219,229h1v1h-1zM738,229h1v1h-1zM872,465h1v1h-1zM1192,465h1v1h-1zM262,174h1v1h-1zM710,174h1v1h-1zM803,374h1v1h-1zM1285,374h2v1h-2zM229,215h1v1h-1zM731,215h1v1h-1zM826,414h1v1h-1zM1237,414h2v1h-2zM299,131h2v1h-2zM661,131h2v1h-2zM17,337h1v1h-1zM77,337h1v1h-1zM788,337h1v1h-1zM813,392h1v1h-1zM1260,392h1v1h-1zM9,330h1v1h-1zM87,330h1v1h-1zM785,330h1v1h-1zM139,298h1v1h-1zM770,298h1v1h-1zM183,261h2v1h-2zM753,261h1v1h-1zM226,220h1v1h-1zM734,220h1v1h-1zM897,486h1v1h-1zM1171,486h1v1h-1zM1022,543h2v1h-2zM1027,543h4v1h-4zM13,334h1v1h-1zM81,334h2v1h-2zM786,334h1v1h-1zM809,386h1v1h-1zM1265,386h1v1h-1zM955,517h2v1h-2zM1111,517h3v1h-3zM292,137h1v1h-1zM672,137h2v1h-2zM932,505h1v1h-1zM1136,505h3v1h-3zM798,362h1v1h-1zM214,236h1v1h-1zM741,236h1v1h-1zM877,470h2v1h-2zM1187,470h1v1h-1zM138,299h1v1h-1zM770,299h1v1h-1zM313,120h1v1h-1zM645,120h3v1h-3zM879,471h1v1h-1zM1186,471h1v1h-1zM213,238h1v1h-1zM742,238h1v1h-1zM249,189h1v1h-1zM719,189h1v1h-1zM146,292h2v1h-2zM767,292h1v1h-1zM12,333h1v1h-1zM83,333h1v1h-1zM786,333h1v1h-1zM806,379h1v1h-1zM1273,379h2v1h-2zM119,311h2v1h-2zM776,311h1v1h-1zM818,401h1v1h-1zM1252,401h1v1h-1zM823,409h1v1h-1zM1243,409h1v1h-1zM945,514h2v1h-2zM1117,514h2v1h-2zM874,467h1v1h-1zM1190,467h1v1h-1zM827,415h1v1h-1zM1236,415h1v1h-1zM807,382h1v1h-1zM1269,382h2v1h-2zM910,494h2v1h-2zM1157,494h2v1h-2zM265,170h1v1h-1zM708,170h1v1h-1zM885,477h2v1h-2zM1181,477h1v1h-1zM903,490h2v1h-2zM1164,490h2v1h-2zM260,176h1v1h-1zM712,176h1v1h-1zM279,150h1v1h-1zM692,150h1v1h-1zM20,340h1v1h-1zM71,340h3v1h-3zM789,340h1v1h-1zM793,348h1v1h-1zM802,372h1v1h-1zM1289,372h2v1h-2zM153,288h1v1h-1zM765,288h1v1h-1zM282,147h1v1h-1zM690,147h1v1h-1zM212,239h1v1h-1zM743,239h1v1h-1zM797,359h1v1h-1zM286,143h1v1h-1zM682,143h2v1h-2zM836,430h1v1h-1zM1223,430h1v1h-1zM216,233h1v1h-1zM740,233h1v1h-1zM134,302h1v1h-1zM772,302h1v1h-1zM837,431h1v1h-1zM1222,431h1v1h-1zM305,127h1v1h-1zM656,127h1v1h-1zM231,212h1v1h-1zM730,212h1v1h-1zM839,434h1v1h-1zM1220,434h1v1h-1zM169,273h1v1h-1zM758,273h1v1h-1zM193,255h1v1h-1zM750,255h1v1h-1zM105,318h1v1h-1zM779,318h1v1h-1zM263,173h1v1h-1zM710,173h1v1h-1zM141,296h1v1h-1zM769,296h1v1h-1zM15,336h2v1h-2zM78,336h2v1h-2zM787,336h1v1h-1zM962,520h2v1h-2zM1102,520h2v1h-2zM830,420h1v1h-1zM1231,420h1v1h-1zM258,179h1v1h-1zM714,179h1v1h-1zM237,204h1v1h-1zM726,204h1v1h-1zM171,271h1v1h-1zM757,271h1v1h-1zM233,209h1v1h-1zM729,209h1v1h-1zM293,136h2v1h-2zM670,136h2v1h-2zM1011,538h2v1h-2zM1042,538h2v1h-2zM234,208h1v1h-1zM728,208h1v1h-1zM289,140h1v1h-1zM677,140h2v1h-2zM199,250h2v1h-2zM748,250h1v1h-1zM222,225h1v1h-1zM736,225h1v1h-1zM800,367h1v1h-1zM207,244h2v1h-2zM745,244h1v1h-1zM348,101h1v1h-1zM383,101h4v1h-4zM924,500h2v1h-2zM1148,500h1v1h-1zM900,488h1v1h-1zM1168,488h2v1h-2zM308,124h1v1h-1zM652,124h1v1h-1zM809,385h1v1h-1zM1266,385h1v1h-1zM218,230h1v1h-1zM738,230h1v1h-1zM843,440h1v1h-1zM1215,440h1v1h-1zM197,252h1v1h-1zM749,252h1v1h-1zM99,321h2v1h-2zM781,321h1v1h-1zM966,522h2v1h-2zM1098,522h2v1h-2zM110,315h2v1h-2zM778,315h1v1h-1zM143,294h2v1h-2zM768,294h1v1h-1zM814,394h1v1h-1zM1258,394h1v1h-1zM205,246h1v1h-1zM746,246h1v1h-1zM173,269h2v1h-2zM756,269h1v1h-1zM182,262h1v1h-1zM753,262h1v1h-1zM11,332h1v1h-1zM84,332h2v1h-2zM785,332h1v1h-1zM891,482h2v1h-2zM1176,482h1v1h-1zM156,285h1v1h-1zM763,285h1v1h-1zM795,353h1v1h-1zM799,364h1v1h-1zM968,523h3v1h-3zM1096,523h2v1h-2zM894,484h1v1h-1zM1173,484h2v1h-2zM314,119h2v1h-2zM643,119h2v1h-2zM272,159h1v1h-1zM699,159h1v1h-1zM108,316h2v1h-2zM778,316h1v1h-1zM278,152h1v1h-1zM694,152h1v1h-1zM312,121h1v1h-1zM648,121h2v1h-2zM893,483h1v1h-1zM1175,483h1v1h-1zM263,172h1v1h-1zM709,172h1v1h-1zM4,326h1v1h-1zM92,326h2v1h-2zM783,326h1v1h-1zM238,203h1v1h-1zM726,203h1v1h-1zM161,281h1v1h-1zM761,281h1v1h-1zM815,396h1v1h-1zM1256,396h1v1h-1zM819,403h1v1h-1zM1250,403h1v1h-1zM871,464h1v1h-1zM1193,464h1v1h-1zM816,397h1v1h-1zM1255,397h1v1h-1zM793,350h1v1h-1zM226,219h1v1h-1zM733,219h1v1h-1zM223,224h1v1h-1zM736,224h1v1h-1zM794,351h1v1h-1zM235,207h1v1h-1zM728,207h1v1h-1zM298,132h1v1h-1zM663,132h2v1h-2zM888,479h1v1h-1zM1179,479h1v1h-1zM906,492h2v1h-2zM1161,492h1v1h-1zM800,366h1v1h-1zM889,480h1v1h-1zM1178,480h1v1h-1zM957,518h3v1h-3zM1107,518h4v1h-4zM168,274h1v1h-1zM758,274h1v1h-1zM244,195h1v1h-1zM722,195h1v1h-1zM243,196h1v1h-1zM722,196h1v1h-1zM137,300h1v1h-1zM771,300h1v1h-1zM846,444h1v1h-1zM1212,444h1v1h-1zM901,489h2v1h-2zM1166,489h2v1h-2zM172,270h1v1h-1zM756,270h1v1h-1zM895,485h2v1h-2zM1172,485h1v1h-1zM121,310h2v1h-2zM776,310h1v1h-1zM817,399h1v1h-1zM1253,399h1v1h-1zM821,405h1v1h-1zM1248,405h1v1h-1zM792,347h1v1h-1zM801,370h1v1h-1zM1295,370h3v1h-3zM799,363h1v1h-1zM135,301h2v1h-2zM771,301h1v1h-1zM130,306h1v1h-1zM774,306h1v1h-1zM882,474h1v1h-1zM1183,474h1v1h-1zM194,254h1v1h-1zM749,254h1v1h-1zM827,416h1v1h-1zM1235,416h1v1h-1zM273,158h1v1h-1zM699,158h1v1h-1zM831,422h1v1h-1zM1229,422h1v1h-1zM290,139h1v1h-1zM676,139h1v1h-1zM295,135h1v1h-1zM668,135h2v1h-2zM795,355h1v1h-1zM259,177h1v1h-1zM712,177h1v1h-1zM311,122h1v1h-1zM650,122h1v1h-1zM189,257h2v1h-2zM751,257h1v1h-1zM167,275h1v1h-1zM758,275h1v1h-1zM245,194h1v1h-1zM721,194h1v1h-1zM819,402h1v1h-1zM1251,402h1v1h-1zM240,200h1v1h-1zM724,200h1v1h-1zM848,448h1v1h-1zM1209,448h1v1h-1zM852,451h1v1h-1zM1206,451h1v1h-1zM228,216h1v1h-1zM732,216h1v1h-1zM101,320h2v1h-2zM780,320h1v1h-1zM160,282h1v1h-1zM762,282h1v1h-1zM232,210h1v1h-1zM729,210h1v1h-1zM829,418h1v1h-1zM1233,418h1v1h-1zM151,289h2v1h-2zM765,289h1v1h-1zM145,293h1v1h-1zM767,293h1v1h-1zM203,247h2v1h-2zM746,247h1v1h-1zM218,231h1v1h-1zM739,231h1v1h-1zM297,133h1v1h-1zM665,133h1v1h-1zM18,338h1v1h-1zM76,338h1v1h-1zM788,338h1v1h-1zM831,421h1v1h-1zM1230,421h1v1h-1zM795,354h1v1h-1zM887,478h1v1h-1zM1180,478h1v1h-1zM992,531h3v1h-3zM1075,531h2v1h-2zM799,365h1v1h-1zM277,153h1v1h-1zM695,153h1v1h-1zM131,305h1v1h-1zM773,305h1v1h-1zM252,186h1v1h-1zM717,186h1v1h-1zM841,437h1v1h-1zM1218,437h1v1h-1zM842,438h1v1h-1zM1217,438h1v1h-1zM845,443h1v1h-1zM1213,443h1v1h-1zM832,423h1v1h-1zM1229,423h1v1h-1zM794,352h1v1h-1zM221,226h1v1h-1zM737,226h1v1h-1zM232,211h1v1h-1zM729,211h1v1h-1zM801,368h1v1h-1zM210,242h1v1h-1zM744,242h1v1h-1zM864,458h2v1h-2zM1200,458h1v1h-1zM243,197h1v1h-1zM723,197h1v1h-1zM808,384h1v1h-1zM1267,384h1v1h-1zM181,263h1v1h-1zM753,263h1v1h-1zM810,388h1v1h-1zM1263,388h1v1h-1zM866,459h1v1h-1zM1199,459h1v1h-1zM128,307h2v1h-2zM774,307h1v1h-1zM126,308h2v1h-2zM775,308h1v1h-1zM869,462h1v1h-1zM1195,462h1v1h-1zM261,175h1v1h-1zM711,175h1v1h-1zM256,181h1v1h-1zM715,181h1v1h-1zM210,241h1v1h-1zM744,241h1v1h-1zM188,258h1v1h-1zM751,258h1v1h-1zM165,277h1v1h-1zM759,277h1v1h-1zM808,383h1v1h-1zM1268,383h1v1h-1zM820,404h1v1h-1zM1249,404h1v1h-1zM221,227h1v1h-1zM737,227h1v1h-1zM833,425h1v1h-1zM1227,425h1v1h-1zM220,228h1v1h-1zM737,228h1v1h-1zM306,126h1v1h-1zM655,126h1v1h-1zM796,356h1v1h-1zM846,445h1v1h-1zM1211,445h1v1h-1zM940,511h1v1h-1zM1123,511h2v1h-2zM241,199h1v1h-1zM724,199h1v1h-1zM271,161h1v1h-1zM701,161h1v1h-1zM150,290h1v1h-1zM766,290h1v1h-1zM801,369h1v1h-1zM177,266h1v1h-1zM755,266h1v1h-1zM270,163h1v1h-1zM703,163h1v1h-1zM163,279h1v1h-1zM760,279h1v1h-1z"/>
<path fill="#38b070" d="M347,171h1v1h-1zM469,171h8v1h-8zM493,171h16v1h-16zM514,171h1v1h-1zM653,171h1v1h-1zM815,597h2v1h-2zM819,597h2v1h-2zM939,597h1v1h-1zM1019,597h1v1h-1zM73,408h4v1h-4zM725,408h1v1h-1zM781,575h1v1h-1zM839,575h1v1h-1zM909,575h2v1h-2zM1101,575h1v1h-1zM1185,575h1v1h-1zM1225,575h1v1h-1zM21,437h1v1h-1zM732,437h1v1h-1zM106,395h2v1h-2zM723,395h1v1h-1zM789,587h1v1h-1zM831,587h1v1h-1zM931,587h1v1h-1zM1024,587h1v1h-1zM1029,587h3v1h-3zM1069,587h8v1h-8zM1090,587h1v1h-1zM1203,587h2v1h-2zM1218,587h1v1h-1zM318,208h1v1h-1zM670,208h1v1h-1zM961,612h1v1h-1zM1008,612h2v1h-2zM239,330h11v1h-11zM708,330h1v1h-1zM966,615h2v1h-2zM1002,615h2v1h-2zM337,184h1v1h-1zM657,184h1v1h-1zM770,560h1v1h-1zM844,560h1v1h-1zM896,560h1v1h-1zM1124,560h1v1h-1zM1175,560h1v1h-1zM1235,560h1v1h-1zM317,209h1v1h-1zM671,209h1v1h-1zM214,342h2v1h-2zM710,342h1v1h-1zM352,161h1v1h-1zM382,161h1v1h-1zM567,161h6v1h-6zM649,161h1v1h-1zM315,214h1v1h-1zM674,214h1v1h-1zM750,509h1v1h-1zM1269,509h1v1h-1zM350,164h1v1h-1zM386,164h2v1h-2zM520,164h1v1h-1zM525,164h6v1h-6zM541,164h3v1h-3zM549,164h8v1h-8zM650,164h1v1h-1zM768,555h1v1h-1zM846,555h1v1h-1zM894,555h1v1h-1zM1129,555h2v1h-2zM1171,555h1v1h-1zM1241,555h1v1h-1zM64,410h6v1h-6zM726,410h1v1h-1zM771,561h1v1h-1zM844,561h1v1h-1zM897,561h1v1h-1zM1123,561h1v1h-1zM1175,561h1v1h-1zM1234,561h1v1h-1zM784,580h1v1h-1zM836,580h1v1h-1zM916,580h2v1h-2zM1096,580h1v1h-1zM1194,580h1v1h-1zM1222,580h1v1h-1zM785,582h1v1h-1zM835,582h1v1h-1zM920,582h3v1h-3zM1094,582h1v1h-1zM1197,582h1v1h-1zM1221,582h1v1h-1zM17,444h1v1h-1zM734,444h1v1h-1zM56,411h8v1h-8zM726,411h1v1h-1zM210,344h2v1h-2zM711,344h1v1h-1zM332,190h1v1h-1zM660,190h1v1h-1zM739,465h1v1h-1zM791,590h1v1h-1zM829,590h1v1h-1zM933,590h1v1h-1zM1022,590h1v1h-1zM1036,590h1v1h-1zM1056,590h3v1h-3zM1207,590h2v1h-2zM1211,590h2v1h-2zM281,284h1v1h-1zM698,284h1v1h-1zM797,594h3v1h-3zM803,594h4v1h-4zM810,594h2v1h-2zM826,594h1v1h-1zM936,594h1v1h-1zM1020,594h1v1h-1zM788,586h1v1h-1zM832,586h1v1h-1zM930,586h1v1h-1zM1024,586h1v1h-1zM1027,586h2v1h-2zM1091,586h1v1h-1zM1202,586h1v1h-1zM1218,586h1v1h-1zM303,239h1v1h-1zM688,239h1v1h-1zM348,168h1v1h-1zM395,168h4v1h-4zM429,168h8v1h-8zM451,168h4v1h-4zM517,168h1v1h-1zM652,168h1v1h-1zM347,170h1v1h-1zM461,170h8v1h-8zM477,170h16v1h-16zM515,170h1v1h-1zM652,170h1v1h-1zM742,475h1v1h-1zM1289,475h1v1h-1zM232,333h1v1h-1zM708,333h1v1h-1zM795,593h2v1h-2zM807,593h3v1h-3zM827,593h1v1h-1zM935,593h1v1h-1zM1021,593h1v1h-1zM1041,593h10v1h-10zM765,550h1v1h-1zM847,550h1v1h-1zM891,550h1v1h-1zM1147,550h4v1h-4zM1163,550h4v1h-4zM1245,550h1v1h-1zM786,583h1v1h-1zM834,583h1v1h-1zM923,583h2v1h-2zM1093,583h1v1h-1zM1198,583h1v1h-1zM1220,583h1v1h-1zM813,596h2v1h-2zM821,596h3v1h-3zM938,596h1v1h-1zM1019,596h1v1h-1zM295,257h1v1h-1zM692,257h1v1h-1zM787,584h1v1h-1zM834,584h1v1h-1zM925,584h3v1h-3zM1093,584h1v1h-1zM1199,584h2v1h-2zM1219,584h1v1h-1zM766,551h1v1h-1zM847,551h1v1h-1zM891,551h1v1h-1zM1143,551h4v1h-4zM1167,551h3v1h-3zM1245,551h1v1h-1zM307,231h1v1h-1zM682,231h1v1h-1zM968,616h3v1h-3zM997,616h5v1h-5zM14,449h1v1h-1zM735,449h1v1h-1zM348,169h1v1h-1zM399,169h30v1h-30zM455,169h6v1h-6zM516,169h1v1h-1zM652,169h1v1h-1zM133,380h1v1h-1zM719,380h1v1h-1zM290,267h1v1h-1zM694,267h1v1h-1zM5,459h1v1h-1zM737,459h1v1h-1zM954,608h2v1h-2zM1012,608h1v1h-1zM290,268h1v1h-1zM695,268h1v1h-1zM33,414h1v1h-1zM727,414h1v1h-1zM791,589h1v1h-1zM830,589h1v1h-1zM932,589h1v1h-1zM1023,589h1v1h-1zM1034,589h2v1h-2zM1059,589h4v1h-4zM1206,589h1v1h-1zM1213,589h3v1h-3zM136,372h1v1h-1zM717,372h1v1h-1zM769,558h1v1h-1zM845,558h1v1h-1zM895,558h1v1h-1zM1126,558h1v1h-1zM1173,558h1v1h-1zM1237,558h2v1h-2zM744,484h1v1h-1zM1285,484h1v1h-1zM769,557h1v1h-1zM845,557h1v1h-1zM895,557h1v1h-1zM1127,557h1v1h-1zM1173,557h1v1h-1zM1239,557h1v1h-1zM752,515h1v1h-1zM1267,515h1v1h-1zM362,158h1v1h-1zM378,158h1v1h-1zM583,158h6v1h-6zM643,158h2v1h-2zM776,568h1v1h-1zM842,568h1v1h-1zM903,568h1v1h-1zM1110,568h2v1h-2zM1180,568h1v1h-1zM1229,568h1v1h-1zM97,399h2v1h-2zM723,399h1v1h-1zM365,154h1v1h-1zM373,154h2v1h-2zM16,446h1v1h-1zM734,446h1v1h-1zM363,157h1v1h-1zM377,157h1v1h-1zM589,157h8v1h-8zM605,157h38v1h-38zM351,163h1v1h-1zM385,163h1v1h-1zM521,163h4v1h-4zM531,163h4v1h-4zM539,163h2v1h-2zM557,163h6v1h-6zM650,163h1v1h-1zM758,532h1v1h-1zM858,532h1v1h-1zM879,532h1v1h-1zM1258,532h1v1h-1zM365,155h1v1h-1zM375,155h1v1h-1zM29,422h1v1h-1zM728,422h1v1h-1zM975,618h14v1h-14zM760,538h1v1h-1zM853,538h1v1h-1zM883,538h1v1h-1zM1254,538h1v1h-1zM274,297h1v1h-1zM701,297h1v1h-1zM271,304h1v1h-1zM702,304h1v1h-1zM783,579h1v1h-1zM836,579h1v1h-1zM914,579h2v1h-2zM1097,579h1v1h-1zM1192,579h2v1h-2zM1223,579h1v1h-1zM112,392h2v1h-2zM722,392h1v1h-1zM768,556h1v1h-1zM845,556h1v1h-1zM894,556h1v1h-1zM1128,556h1v1h-1zM1172,556h1v1h-1zM1240,556h1v1h-1zM758,533h1v1h-1zM857,533h1v1h-1zM880,533h1v1h-1zM1257,533h1v1h-1zM745,488h1v1h-1zM1283,488h1v1h-1zM207,346h2v1h-2zM711,346h1v1h-1zM781,576h1v1h-1zM838,576h1v1h-1zM911,576h1v1h-1zM1100,576h1v1h-1zM1186,576h2v1h-2zM1224,576h1v1h-1zM93,401h2v1h-2zM724,401h1v1h-1zM316,211h1v1h-1zM672,211h1v1h-1zM760,539h1v1h-1zM852,539h1v1h-1zM884,539h1v1h-1zM1253,539h1v1h-1zM34,413h9v1h-9zM726,413h1v1h-1zM132,382h1v1h-1zM720,382h1v1h-1zM131,386h1v1h-1zM721,386h1v1h-1zM773,564h1v1h-1zM843,564h1v1h-1zM899,564h1v1h-1zM1118,564h2v1h-2zM1177,564h1v1h-1zM1232,564h1v1h-1zM353,159h9v1h-9zM379,159h2v1h-2zM579,159h4v1h-4zM645,159h3v1h-3zM350,165h1v1h-1zM388,165h2v1h-2zM519,165h1v1h-1zM544,165h5v1h-5zM651,165h1v1h-1zM283,281h1v1h-1zM697,281h1v1h-1zM744,486h1v1h-1zM1284,486h1v1h-1zM349,166h1v1h-1zM390,166h2v1h-2zM518,166h1v1h-1zM651,166h1v1h-1zM368,151h1v1h-1zM370,151h1v1h-1zM352,160h1v1h-1zM381,160h1v1h-1zM573,160h6v1h-6zM648,160h2v1h-2zM344,175h1v1h-1zM654,175h1v1h-1zM767,553h1v1h-1zM846,553h1v1h-1zM892,553h1v1h-1zM1135,553h4v1h-4zM1170,553h1v1h-1zM1243,553h1v1h-1zM346,172h1v1h-1zM509,172h5v1h-5zM653,172h1v1h-1zM131,385h1v1h-1zM720,385h1v1h-1zM114,391h8v1h-8zM722,391h1v1h-1zM746,493h1v1h-1zM1279,493h2v1h-2zM287,274h1v1h-1zM696,274h1v1h-1zM299,248h1v1h-1zM690,248h1v1h-1zM311,222h1v1h-1zM678,222h1v1h-1zM757,529h1v1h-1zM860,529h1v1h-1zM875,529h1v1h-1zM1259,529h1v1h-1zM331,191h1v1h-1zM661,191h1v1h-1zM294,260h1v1h-1zM693,260h1v1h-1zM270,306h1v1h-1zM703,306h1v1h-1zM765,549h1v1h-1zM847,549h1v1h-1zM890,549h1v1h-1zM1151,549h12v1h-12zM1246,549h1v1h-1zM957,610h2v1h-2zM1010,610h1v1h-1zM764,548h1v1h-1zM848,548h1v1h-1zM890,548h1v1h-1zM1247,548h1v1h-1zM250,329h2v1h-2zM708,329h1v1h-1zM216,341h5v1h-5zM710,341h1v1h-1zM269,309h1v1h-1zM703,309h1v1h-1zM262,320h1v1h-1zM706,320h1v1h-1zM750,506h1v1h-1zM1270,506h1v1h-1zM138,369h1v1h-1zM716,369h1v1h-1zM33,415h1v1h-1zM727,415h1v1h-1zM28,424h1v1h-1zM729,424h1v1h-1zM743,480h1v1h-1zM1287,480h1v1h-1zM301,244h1v1h-1zM690,244h1v1h-1zM766,552h1v1h-1zM846,552h1v1h-1zM892,552h1v1h-1zM1139,552h4v1h-4zM1170,552h1v1h-1zM1244,552h1v1h-1zM746,490h1v1h-1zM1282,490h1v1h-1zM770,559h1v1h-1zM844,559h1v1h-1zM896,559h1v1h-1zM1125,559h1v1h-1zM1174,559h1v1h-1zM1236,559h1v1h-1zM276,294h1v1h-1zM700,294h1v1h-1zM160,348h1v1h-1zM163,348h4v1h-4zM204,348h1v1h-1zM712,348h1v1h-1zM252,328h2v1h-2zM707,328h1v1h-1zM298,250h1v1h-1zM691,250h1v1h-1zM310,224h1v1h-1zM679,224h1v1h-1zM221,340h5v1h-5zM710,340h1v1h-1zM780,574h1v1h-1zM839,574h1v1h-1zM908,574h1v1h-1zM1102,574h1v1h-1zM1184,574h1v1h-1zM1226,574h1v1h-1zM761,541h1v1h-1zM851,541h1v1h-1zM885,541h1v1h-1zM1252,541h1v1h-1zM759,535h1v1h-1zM855,535h1v1h-1zM882,535h1v1h-1zM1256,535h1v1h-1zM269,308h1v1h-1zM703,308h1v1h-1zM22,436h1v1h-1zM732,436h1v1h-1zM959,611h2v1h-2zM1010,611h1v1h-1zM767,554h1v1h-1zM846,554h1v1h-1zM893,554h1v1h-1zM1131,554h4v1h-4zM1171,554h1v1h-1zM1242,554h1v1h-1zM70,409h3v1h-3zM726,409h1v1h-1zM10,453h1v1h-1zM736,453h1v1h-1zM774,565h1v1h-1zM843,565h1v1h-1zM900,565h1v1h-1zM1116,565h2v1h-2zM1178,565h1v1h-1zM1231,565h1v1h-1zM784,581h1v1h-1zM835,581h1v1h-1zM918,581h2v1h-2zM1095,581h1v1h-1zM1195,581h2v1h-2zM1221,581h1v1h-1zM0,464h1v1h-1zM739,464h1v1h-1zM351,162h1v1h-1zM383,162h2v1h-2zM535,162h4v1h-4zM563,162h4v1h-4zM650,162h1v1h-1zM287,273h1v1h-1zM696,273h1v1h-1zM775,566h1v1h-1zM842,566h1v1h-1zM901,566h1v1h-1zM1114,566h2v1h-2zM1178,566h1v1h-1zM1231,566h1v1h-1zM349,167h1v1h-1zM392,167h3v1h-3zM437,167h14v1h-14zM517,167h1v1h-1zM651,167h1v1h-1zM260,323h1v1h-1zM706,323h1v1h-1zM800,595h3v1h-3zM812,595h1v1h-1zM824,595h2v1h-2zM937,595h1v1h-1zM1020,595h1v1h-1zM772,562h1v1h-1zM844,562h1v1h-1zM898,562h1v1h-1zM1122,562h1v1h-1zM1176,562h1v1h-1zM1233,562h1v1h-1zM793,592h2v1h-2zM827,592h1v1h-1zM935,592h1v1h-1zM1021,592h1v1h-1zM1039,592h2v1h-2zM1051,592h2v1h-2zM753,519h1v1h-1zM1265,519h1v1h-1zM230,335h1v1h-1zM709,335h1v1h-1zM261,322h1v1h-1zM706,322h1v1h-1zM26,427h1v1h-1zM729,427h1v1h-1zM157,350h2v1h-2zM179,350h2v1h-2zM199,350h3v1h-3zM712,350h1v1h-1zM777,569h1v1h-1zM842,569h1v1h-1zM903,569h1v1h-1zM1108,569h2v1h-2zM1181,569h1v1h-1zM1229,569h1v1h-1zM742,476h1v1h-1zM1289,476h1v1h-1zM763,546h1v1h-1zM848,546h1v1h-1zM888,546h1v1h-1zM1249,546h1v1h-1zM133,379h1v1h-1zM719,379h1v1h-1zM341,179h1v1h-1zM655,179h1v1h-1zM783,578h1v1h-1zM837,578h1v1h-1zM913,578h1v1h-1zM1098,578h1v1h-1zM1190,578h2v1h-2zM1223,578h1v1h-1zM156,351h1v1h-1zM181,351h3v1h-3zM195,351h4v1h-4zM712,351h1v1h-1zM336,185h1v1h-1zM658,185h1v1h-1zM749,503h1v1h-1zM1271,503h1v1h-1zM755,525h1v1h-1zM863,525h1v1h-1zM868,525h2v1h-2zM1262,525h1v1h-1zM305,234h1v1h-1zM684,234h1v1h-1zM946,604h2v1h-2zM1014,604h1v1h-1zM744,483h1v1h-1zM1285,483h1v1h-1zM292,264h1v1h-1zM694,264h1v1h-1zM304,238h1v1h-1zM687,238h1v1h-1zM364,156h1v1h-1zM376,156h1v1h-1zM597,156h8v1h-8zM948,605h2v1h-2zM1014,605h1v1h-1zM773,563h1v1h-1zM843,563h1v1h-1zM899,563h1v1h-1zM1120,563h2v1h-2zM1176,563h1v1h-1zM1232,563h1v1h-1zM30,421h1v1h-1zM728,421h1v1h-1zM739,467h1v1h-1zM159,349h1v1h-1zM167,349h12v1h-12zM202,349h2v1h-2zM712,349h1v1h-1zM280,286h1v1h-1zM698,286h1v1h-1zM742,477h1v1h-1zM1288,477h1v1h-1zM753,518h1v1h-1zM1265,518h1v1h-1zM745,487h1v1h-1zM1283,487h1v1h-1zM209,345h1v1h-1zM711,345h1v1h-1zM790,588h1v1h-1zM831,588h1v1h-1zM931,588h1v1h-1zM1023,588h1v1h-1zM1032,588h2v1h-2zM1063,588h6v1h-6zM1077,588h13v1h-13zM1205,588h1v1h-1zM1216,588h2v1h-2zM95,400h2v1h-2zM724,400h1v1h-1zM43,412h13v1h-13zM726,412h1v1h-1zM748,499h1v1h-1zM1273,499h1v1h-1zM742,478h1v1h-1zM1288,478h1v1h-1zM12,451h1v1h-1zM735,451h1v1h-1zM942,600h1v1h-1zM1017,600h1v1h-1zM145,356h1v1h-1zM713,356h1v1h-1zM943,601h1v1h-1zM1016,601h1v1h-1zM744,485h1v1h-1zM1284,485h1v1h-1zM291,266h1v1h-1zM694,266h1v1h-1zM309,227h1v1h-1zM680,227h1v1h-1zM303,240h1v1h-1zM688,240h1v1h-1zM787,585h1v1h-1zM833,585h1v1h-1zM928,585h2v1h-2zM1025,585h2v1h-2zM1092,585h1v1h-1zM1201,585h1v1h-1zM1219,585h1v1h-1zM308,228h1v1h-1zM681,228h1v1h-1zM129,389h1v1h-1zM721,389h1v1h-1zM752,517h1v1h-1zM1266,517h1v1h-1zM135,375h1v1h-1zM718,375h1v1h-1zM141,363h1v1h-1zM715,363h1v1h-1zM306,233h1v1h-1zM684,233h1v1h-1zM792,591h1v1h-1zM828,591h1v1h-1zM934,591h1v1h-1zM1022,591h1v1h-1zM1037,591h2v1h-2zM1053,591h3v1h-3zM1209,591h2v1h-2zM29,423h1v1h-1zM729,423h1v1h-1zM945,603h1v1h-1zM1015,603h1v1h-1zM753,520h1v1h-1zM1264,520h1v1h-1zM294,259h1v1h-1zM693,259h1v1h-1zM273,299h1v1h-1zM701,299h1v1h-1zM283,280h1v1h-1zM697,280h1v1h-1zM80,406h3v1h-3zM725,406h1v1h-1zM155,352h1v1h-1zM184,352h11v1h-11zM712,352h1v1h-1zM756,527h1v1h-1zM862,527h1v1h-1zM872,527h2v1h-2zM1260,527h1v1h-1zM146,355h4v1h-4zM713,355h1v1h-1zM964,614h2v1h-2zM1004,614h2v1h-2zM748,501h1v1h-1zM1272,501h1v1h-1zM779,572h1v1h-1zM840,572h1v1h-1zM906,572h1v1h-1zM1104,572h1v1h-1zM1183,572h1v1h-1zM1227,572h1v1h-1zM144,359h1v1h-1zM714,359h1v1h-1zM89,403h2v1h-2zM724,403h1v1h-1zM318,207h1v1h-1zM669,207h1v1h-1zM144,358h1v1h-1zM714,358h1v1h-1zM758,534h1v1h-1zM856,534h1v1h-1zM881,534h1v1h-1zM1256,534h1v1h-1zM122,390h8v1h-8zM721,390h1v1h-1zM817,598h2v1h-2zM940,598h1v1h-1zM1018,598h1v1h-1zM314,216h1v1h-1zM675,216h1v1h-1zM140,365h1v1h-1zM715,365h1v1h-1zM276,293h1v1h-1zM700,293h1v1h-1zM286,275h1v1h-1zM696,275h1v1h-1zM99,398h2v1h-2zM723,398h1v1h-1zM269,307h1v1h-1zM703,307h1v1h-1zM778,570h1v1h-1zM841,570h1v1h-1zM904,570h1v1h-1zM1106,570h2v1h-2zM1181,570h1v1h-1zM1228,570h1v1h-1zM293,262h1v1h-1zM693,262h1v1h-1zM282,282h1v1h-1zM697,282h1v1h-1zM11,452h1v1h-1zM736,452h1v1h-1zM77,407h3v1h-3zM725,407h1v1h-1zM952,607h2v1h-2zM1012,607h1v1h-1zM750,508h1v1h-1zM1269,508h1v1h-1zM266,315h1v1h-1zM705,315h1v1h-1zM278,289h1v1h-1zM699,289h1v1h-1zM759,536h1v1h-1zM855,536h1v1h-1zM882,536h1v1h-1zM1255,536h1v1h-1zM330,192h1v1h-1zM661,192h1v1h-1zM261,321h1v1h-1zM706,321h1v1h-1zM27,426h1v1h-1zM729,426h1v1h-1zM971,617h4v1h-4zM989,617h8v1h-8zM231,334h1v1h-1zM709,334h1v1h-1zM743,482h1v1h-1zM1286,482h1v1h-1zM762,543h1v1h-1zM849,543h1v1h-1zM887,543h1v1h-1zM1251,543h1v1h-1zM296,256h1v1h-1zM692,256h1v1h-1zM746,492h1v1h-1zM1281,492h1v1h-1zM6,458h1v1h-1zM737,458h1v1h-1zM317,210h1v1h-1zM671,210h1v1h-1zM314,215h1v1h-1zM674,215h1v1h-1zM8,455h1v1h-1zM736,455h1v1h-1zM3,461h1v1h-1zM738,461h1v1h-1zM739,466h1v1h-1zM280,285h1v1h-1zM698,285h1v1h-1zM265,317h1v1h-1zM705,317h1v1h-1zM277,291h1v1h-1zM699,291h1v1h-1zM776,567h1v1h-1zM842,567h1v1h-1zM902,567h1v1h-1zM1112,567h2v1h-2zM1179,567h1v1h-1zM1230,567h1v1h-1zM229,336h1v1h-1zM709,336h1v1h-1zM340,180h1v1h-1zM656,180h1v1h-1zM740,471h1v1h-1zM1293,471h2v1h-2zM9,454h1v1h-1zM736,454h1v1h-1zM761,540h1v1h-1zM851,540h1v1h-1zM885,540h1v1h-1zM1253,540h1v1h-1zM20,439h1v1h-1zM732,439h1v1h-1zM150,354h4v1h-4zM713,354h1v1h-1zM326,196h1v1h-1zM663,196h1v1h-1zM13,450h1v1h-1zM735,450h1v1h-1zM133,381h1v1h-1zM719,381h1v1h-1zM962,613h2v1h-2zM1006,613h2v1h-2zM289,269h1v1h-1zM695,269h1v1h-1zM749,505h1v1h-1zM1270,505h1v1h-1zM752,516h1v1h-1zM1266,516h1v1h-1zM135,374h1v1h-1zM718,374h1v1h-1zM235,331h4v1h-4zM708,331h1v1h-1zM367,152h1v1h-1zM371,152h1v1h-1zM313,217h1v1h-1zM675,217h1v1h-1zM272,301h1v1h-1zM702,301h1v1h-1zM274,298h1v1h-1zM701,298h1v1h-1zM745,489h1v1h-1zM1282,489h1v1h-1zM161,347h2v1h-2zM205,347h2v1h-2zM711,347h1v1h-1zM761,542h1v1h-1zM850,542h1v1h-1zM886,542h1v1h-1zM1251,542h1v1h-1zM748,500h1v1h-1zM1272,500h1v1h-1zM91,402h2v1h-2zM724,402h1v1h-1zM319,206h1v1h-1zM669,206h1v1h-1zM132,383h1v1h-1zM720,383h1v1h-1zM950,606h2v1h-2zM1013,606h1v1h-1zM134,377h1v1h-1zM718,377h1v1h-1zM755,524h1v1h-1zM864,524h1v1h-1zM866,524h2v1h-2zM1262,524h1v1h-1zM343,177h1v1h-1zM655,177h1v1h-1zM24,432h1v1h-1zM731,432h1v1h-1zM299,249h1v1h-1zM691,249h1v1h-1zM130,387h1v1h-1zM721,387h1v1h-1zM311,223h1v1h-1zM678,223h1v1h-1zM83,405h4v1h-4zM725,405h1v1h-1zM747,496h1v1h-1zM1275,496h2v1h-2zM293,261h1v1h-1zM693,261h1v1h-1zM24,431h1v1h-1zM730,431h1v1h-1zM329,193h1v1h-1zM662,193h1v1h-1zM268,310h1v1h-1zM703,310h1v1h-1zM748,498h1v1h-1zM1273,498h1v1h-1zM749,502h1v1h-1zM1271,502h1v1h-1zM104,396h2v1h-2zM723,396h1v1h-1zM268,311h1v1h-1zM704,311h1v1h-1zM266,314h1v1h-1zM704,314h1v1h-1zM142,361h1v1h-1zM714,361h1v1h-1zM20,438h1v1h-1zM732,438h1v1h-1zM32,416h1v1h-1zM727,416h1v1h-1zM751,510h1v1h-1zM1268,510h1v1h-1zM139,366h1v1h-1zM716,366h1v1h-1zM743,481h1v1h-1zM1286,481h1v1h-1zM301,245h1v1h-1zM690,245h1v1h-1zM259,324h1v1h-1zM706,324h1v1h-1zM275,295h1v1h-1zM700,295h1v1h-1zM322,200h1v1h-1zM665,200h1v1h-1zM342,178h1v1h-1zM655,178h1v1h-1zM298,251h1v1h-1zM691,251h1v1h-1zM310,225h1v1h-1zM679,225h1v1h-1zM778,571h1v1h-1zM841,571h1v1h-1zM905,571h1v1h-1zM1105,571h1v1h-1zM1182,571h1v1h-1zM1227,571h1v1h-1zM23,433h1v1h-1zM731,433h1v1h-1zM306,232h1v1h-1zM683,232h1v1h-1zM334,187h1v1h-1zM659,187h1v1h-1zM265,316h1v1h-1zM705,316h1v1h-1zM941,599h1v1h-1zM1018,599h1v1h-1zM19,440h1v1h-1zM733,440h1v1h-1zM779,573h1v1h-1zM840,573h1v1h-1zM907,573h1v1h-1zM1103,573h1v1h-1zM1184,573h1v1h-1zM1226,573h1v1h-1zM134,378h1v1h-1zM719,378h1v1h-1zM754,521h1v1h-1zM1264,521h1v1h-1zM25,429h1v1h-1zM730,429h1v1h-1zM762,544h1v1h-1zM849,544h1v1h-1zM887,544h1v1h-1zM1250,544h1v1h-1zM760,537h1v1h-1zM854,537h1v1h-1zM883,537h1v1h-1zM1255,537h1v1h-1zM327,195h1v1h-1zM663,195h1v1h-1zM295,258h1v1h-1zM692,258h1v1h-1zM782,577h1v1h-1zM838,577h1v1h-1zM912,577h1v1h-1zM1099,577h1v1h-1zM1188,577h2v1h-2zM1224,577h1v1h-1zM747,495h1v1h-1zM1277,495h1v1h-1zM749,504h1v1h-1zM1271,504h1v1h-1zM756,526h1v1h-1zM863,526h1v1h-1zM870,526h2v1h-2zM1261,526h1v1h-1zM142,362h1v1h-1zM715,362h1v1h-1zM305,235h1v1h-1zM685,235h1v1h-1zM2,462h1v1h-1zM738,462h1v1h-1zM333,189h1v1h-1zM660,189h1v1h-1zM18,442h1v1h-1zM733,442h1v1h-1zM233,332h2v1h-2zM708,332h1v1h-1zM279,287h1v1h-1zM699,287h1v1h-1zM339,182h1v1h-1zM656,182h1v1h-1zM228,337h1v1h-1zM709,337h1v1h-1zM273,300h1v1h-1zM701,300h1v1h-1zM763,545h1v1h-1zM848,545h1v1h-1zM888,545h1v1h-1zM1250,545h1v1h-1zM145,357h1v1h-1zM713,357h1v1h-1zM288,271h1v1h-1zM695,271h1v1h-1zM308,229h1v1h-1zM681,229h1v1h-1zM135,376h1v1h-1zM718,376h1v1h-1zM141,364h1v1h-1zM715,364h1v1h-1zM756,528h1v1h-1zM861,528h1v1h-1zM874,528h1v1h-1zM1260,528h1v1h-1zM143,360h1v1h-1zM714,360h1v1h-1zM87,404h2v1h-2zM724,404h1v1h-1zM101,397h3v1h-3zM723,397h1v1h-1zM4,460h1v1h-1zM738,460h1v1h-1zM226,339h1v1h-1zM710,339h1v1h-1zM286,276h1v1h-1zM696,276h1v1h-1zM23,434h1v1h-1zM731,434h1v1h-1zM136,373h1v1h-1zM717,373h1v1h-1zM323,199h1v1h-1zM665,199h1v1h-1zM282,283h1v1h-1zM698,283h1v1h-1zM757,530h1v1h-1zM859,530h1v1h-1zM876,530h1v1h-1zM1259,530h1v1h-1zM267,313h1v1h-1zM704,313h1v1h-1zM278,290h1v1h-1zM699,290h1v1h-1zM335,186h1v1h-1zM658,186h1v1h-1zM307,230h1v1h-1zM682,230h1v1h-1zM31,418h1v1h-1zM727,418h1v1h-1zM305,236h1v1h-1zM686,236h1v1h-1zM751,512h1v1h-1zM1268,512h1v1h-1zM26,428h1v1h-1zM730,428h1v1h-1zM346,173h1v1h-1zM653,173h1v1h-1zM258,325h1v1h-1zM707,325h1v1h-1zM154,353h1v1h-1zM713,353h1v1h-1zM300,247h1v1h-1zM690,247h1v1h-1zM741,473h1v1h-1zM1291,473h1v1h-1zM747,494h1v1h-1zM1278,494h1v1h-1zM743,479h1v1h-1zM1287,479h1v1h-1zM333,188h1v1h-1zM659,188h1v1h-1zM277,292h1v1h-1zM700,292h1v1h-1zM302,241h1v1h-1zM689,241h1v1h-1zM339,181h1v1h-1zM656,181h1v1h-1zM19,441h1v1h-1zM733,441h1v1h-1zM324,198h1v1h-1zM664,198h1v1h-1zM320,203h1v1h-1zM667,203h1v1h-1zM289,270h1v1h-1zM695,270h1v1h-1zM740,468h1v1h-1zM1297,468h1v1h-1zM313,218h1v1h-1zM676,218h1v1h-1zM272,302h1v1h-1zM702,302h1v1h-1zM108,394h2v1h-2zM722,394h1v1h-1zM315,213h1v1h-1zM673,213h1v1h-1zM312,220h1v1h-1zM677,220h1v1h-1zM746,491h1v1h-1zM1281,491h1v1h-1zM288,272h1v1h-1zM695,272h1v1h-1zM300,246h1v1h-1zM690,246h1v1h-1zM130,388h1v1h-1zM721,388h1v1h-1zM297,252h1v1h-1zM691,252h1v1h-1zM328,194h1v1h-1zM662,194h1v1h-1zM284,279h1v1h-1zM697,279h1v1h-1zM267,312h1v1h-1zM704,312h1v1h-1zM32,417h1v1h-1zM727,417h1v1h-1zM751,511h1v1h-1zM1268,511h1v1h-1zM139,367h1v1h-1zM716,367h1v1h-1zM741,472h1v1h-1zM1292,472h1v1h-1zM275,296h1v1h-1zM700,296h1v1h-1zM254,327h2v1h-2zM707,327h1v1h-1zM8,456h1v1h-1zM737,456h1v1h-1zM137,370h1v1h-1zM717,370h1v1h-1zM751,513h1v1h-1zM1267,513h1v1h-1zM754,522h1v1h-1zM1263,522h1v1h-1zM345,174h1v1h-1zM654,174h1v1h-1zM15,448h1v1h-1zM735,448h1v1h-1zM25,430h1v1h-1zM730,430h1v1h-1zM366,153h1v1h-1zM372,153h1v1h-1zM741,474h1v1h-1zM1290,474h1v1h-1zM325,197h1v1h-1zM664,197h1v1h-1zM110,393h2v1h-2zM722,393h1v1h-1zM7,457h1v1h-1zM737,457h1v1h-1zM131,384h1v1h-1zM720,384h1v1h-1zM18,443h1v1h-1zM733,443h1v1h-1zM301,243h1v1h-1zM689,243h1v1h-1zM740,469h1v1h-1zM1296,469h1v1h-1zM279,288h1v1h-1zM699,288h1v1h-1zM227,338h1v1h-1zM709,338h1v1h-1zM27,425h1v1h-1zM729,425h1v1h-1zM747,497h1v1h-1zM1274,497h1v1h-1zM338,183h1v1h-1zM657,183h1v1h-1zM764,547h1v1h-1zM848,547h1v1h-1zM889,547h1v1h-1zM1248,547h1v1h-1zM138,368h1v1h-1zM716,368h1v1h-1zM284,278h1v1h-1zM697,278h1v1h-1zM297,253h1v1h-1zM691,253h1v1h-1zM321,201h1v1h-1zM666,201h1v1h-1zM22,435h1v1h-1zM731,435h1v1h-1zM17,445h1v1h-1zM734,445h1v1h-1zM256,326h2v1h-2zM707,326h1v1h-1zM296,255h1v1h-1zM692,255h1v1h-1zM321,202h1v1h-1zM666,202h1v1h-1zM1,463h1v1h-1zM738,463h1v1h-1zM304,237h1v1h-1zM686,237h1v1h-1zM31,419h1v1h-1zM728,419h1v1h-1zM212,343h2v1h-2zM710,343h1v1h-1zM754,523h1v1h-1zM865,523h1v1h-1zM1263,523h1v1h-1zM319,205h1v1h-1zM668,205h1v1h-1zM285,277h1v1h-1zM696,277h1v1h-1zM313,219h1v1h-1zM676,219h1v1h-1zM302,242h1v1h-1zM689,242h1v1h-1zM740,470h1v1h-1zM1295,470h1v1h-1zM757,531h1v1h-1zM859,531h1v1h-1zM877,531h2v1h-2zM1258,531h1v1h-1zM320,204h1v1h-1zM667,204h1v1h-1zM369,150h1v1h-1zM309,226h1v1h-1zM680,226h1v1h-1zM312,221h1v1h-1zM677,221h1v1h-1zM263,319h1v1h-1zM705,319h1v1h-1zM944,602h1v1h-1zM1016,602h1v1h-1zM956,609h1v1h-1zM1011,609h1v1h-1zM297,254h1v1h-1zM692,254h1v1h-1zM292,263h1v1h-1zM694,263h1v1h-1zM343,176h1v1h-1zM654,176h1v1h-1zM16,447h1v1h-1zM734,447h1v1h-1zM137,371h1v1h-1zM717,371h1v1h-1zM752,514h1v1h-1zM1267,514h1v1h-1zM316,212h1v1h-1zM672,212h1v1h-1zM271,303h1v1h-1zM702,303h1v1h-1zM270,305h1v1h-1zM702,305h1v1h-1zM264,318h1v1h-1zM705,318h1v1h-1zM291,265h1v1h-1zM694,265h1v1h-1zM30,420h1v1h-1zM728,420h1v1h-1zM750,507h1v1h-1zM1270,507h1v1h-1z"/>
<rect x="0" y="325" width="1644" height="2" fill="#ff0000" />
<rect x="1638" y="323" width="6" height="6" fill="#ff0000" />
<rect x="1640" y="325" width="2" height="2" fill="#fff" />
<rect x="0" y="362" width="1644" height="2" fill="#ff0000" />
<rect x="1638" y="360" width="6" height="6" fill="#ff0000" />
<rect x="1640" y="362" width="2" height="2" fill="#fff" />
<rect x="0" y="394" width="1644" height="2" fill="#ffa500" />
<rect x="1638" y="392" width="6" height="6" fill="#ffa500" />
<rect x="1640" y="394" width="2" height="2" fill="#fff" />
<rect x="0" y="448" width="1644" height="2" fill="#0000ff" />
<rect x="1638" y="446" width="6" height="6" fill="#0000ff" />
<rect x="1640" y="448" width="2" height="2" fill="#fff" />
<rect x="0" y="477" width="1644" height="2" fill="#0000ff" />
<rect x="1638" y="475" width="6" height="6" fill="#0000ff" />
<rect x="1640" y="477" width="2" height="2" fill="#fff" />
<rect x="1306" y="21" width="9" height="1" fill="#000" />
<rect x="1307" y="22" width="7" height="1" fill="#000" />
<rect x="1308" y="23" width="5" height="1" fill="#000" />
<rect x="1309" y="24" width="3" height="1" fill="#000" />
<rect x="1310" y="25" width="1" height="1" fill="#000" />
</g>
<g shape-rendering="crispEdges">
<rect x="1645" y="26" width="2" height="1" fill="#000" />
<rect x="1645" y="59" width="2" height="1" fill="#000" />
<rect x="1645" y="92" width="2" height="1" fill="#000" />
<rect x="1645" y="125" width="2" height="1" fill="#000" />
<rect x="1645" y="158" width="2" height="1" fill="#000" />
<rect x="1645" y="191" width="2" height="1" fill="#000" />
<rect x="1645" y="224" width="2" height="1" fill="#000" />
<rect x="1645" y="257" width="2" height="1" fill="#000" />
<rect x="1645" y="290" width="2" height="1" fill="#000" />
<rect x="1645" y="323" width="2" height="1" fill="#000" />
<rect x="1645" y="356" width="2" height="1" fill="#000" />
<rect x="1645" y="389" width="2" height="1" fill="#000" />
<rect x="1645" y="422" width="2" height="1" fill="#000" />
<rect x="1645" y="455" width="2" height="1" fill="#000" />
<rect x="1645" y="488" width="2" height="1" fill="#000" />
<rect x="1645" y="521" width="2" height="1" fill="#000" />
<rect x="1645" y="554" width="2" height="1" fill="#000" />
<rect x="1645" y="587" width="2" height="1" fill="#000" />
<rect x="1645" y="620" width="2" height="1" fill="#000" />
</g>
<text x="1650" y="30" fill="#000" stroke="#000" stroke-width="0.17" font-size="10.2" text-anchor="start" textLength="33" lengthAdjust="spacingAndGlyphs" >33590.5</text>
<text x="1650" y="63" fill="#000" stroke="#000" stroke-width="0.17" font-size="10.2" text-anchor="start" textLength="33" lengthAdjust="spacingAndGlyphs" >33363.0</text>
<text x="1650" y="96" fill="#000" stroke="#000" stroke-width="0.17" font-size="10.2" text-anchor="start" textLength="33" lengthAdjust="spacingAndGlyphs" >33142.0</text>
<text x="1650" y="129" fill="#000" stroke="#000" stroke-width="0.17" font-size="10.2" text-anchor="start" textLength="33" lengthAdjust="spacingAndGlyphs" >32914.5</text>
<text x="1650" y="162" fill="#000" stroke="#000" stroke-width="0.17" font-size="10.2" text-anchor="start" textLength="33" lengthAdjust="spacingAndGlyphs" >32693.5</text>
<text x="1650" y="195" fill="#000" stroke="#000" stroke-width="0.17" font-size="10.2" text-anchor="start" textLength="33" lengthAdjust="spacingAndGlyphs" >32472.5</text>
<text x="1650" y="228" fill="#000" stroke="#000" stroke-width="0.17" font-size="10.2" text-anchor="start" textLength="33" lengthAdjust="spacingAndGlyphs" >32245.0</text>
<text x="1650" y="261" fill="#000" stroke="#000" stroke-width="0.17" font-size="10.2" text-anchor="start" textLength="33" lengthAdjust="spacingAndGlyphs" >32024.0</text>
<text x="1650" y="294" fill="#000" stroke="#000" stroke-width="0.17" font-size="10.2" text-anchor="start" textLength="33" lengthAdjust="spacingAndGlyphs" >31796.5</text>
<text x="1650" y="360" fill="#000" stroke="#000" stroke-width="0.17" font-size="10.2" text-anchor="start" textLength="33" lengthAdjust="spacingAndGlyphs" >31348.0</text>
<text x="1650" y="393" fill="#000" stroke="#000" stroke-width="0.17" font-size="10.2" text-anchor="start" textLength="33" lengthAdjust="spacingAndGlyphs" >31127.0</text>
<text x="1650" y="426" fill="#000" stroke="#000" stroke-width="0.17" font-size="10.2" text-anchor="start" textLength="33" lengthAdjust="spacingAndGlyphs" >30899.5</text>
<text x="1650" y="459" fill="#000" stroke="#000" stroke-width="0.17" font-size="10.2" text-anchor="start" textLength="33" lengthAdjust="spacingAndGlyphs" >30678.5</text>
<text x="1650" y="492" fill="#000" stroke="#000" stroke-width="0.17" font-size="10.2" text-anchor="start" textLength="33" lengthAdjust="spacingAndGlyphs" >30451.0</text>
<text x="1650" y="525" fill="#000" stroke="#000" stroke-width="0.17" font-size="10.2" text-anchor="start" textLength="33" lengthAdjust="spacingAndGlyphs" >30230.0</text>
<text x="1650" y="558" fill="#000" stroke="#000" stroke-width="0.17" font-size="10.2" text-anchor="start" textLength="33" lengthAdjust="spacingAndGlyphs" >30009.0</text>
<text x="1650" y="591" fill="#000" stroke="#000" stroke-width="0.17" font-size="10.2" text-anchor="start" textLength="33" lengthAdjust="spacingAndGlyphs" >29781.5</text>
<text x="1650" y="624" fill="#000" stroke="#000" stroke-width="0.17" font-size="10.2" text-anchor="start" textLength="33" lengthAdjust="spacingAndGlyphs" >29560.5</text>
<rect x="1646" y="320" width="41" height="11" fill="#ff0000" shape-rendering="crispEdges"/>
<text x="1650" y="329" fill="#fff" stroke="#fff" stroke-width="0.17" font-size="10.2" text-anchor="start" textLength="33" lengthAdjust="spacingAndGlyphs" >31553.4</text>
<rect x="1646" y="357" width="41" height="11" fill="#ff0000" shape-rendering="crispEdges"/>
<text x="1650" y="366" fill="#fff" stroke="#fff" stroke-width="0.17" font-size="10.2" text-anchor="start" textLength="33" lengthAdjust="spacingAndGlyphs" >31302.7</text>
<rect x="1646" y="389" width="41" height="11" fill="#ffa500" shape-rendering="crispEdges"/>
<text x="1650" y="398" fill="#fff" stroke="#fff" stroke-width="0.17" font-size="10.2" text-anchor="start" textLength="33" lengthAdjust="spacingAndGlyphs" >31085.9</text>
<rect x="1646" y="408" width="41" height="11" fill="#000" shape-rendering="crispEdges"/>
<text x="1650" y="417" fill="#fff" stroke="#fff" stroke-width="0.17" font-size="10.2" text-anchor="start" textLength="33" lengthAdjust="spacingAndGlyphs" >30959.5</text>
<rect x="1646" y="443" width="41" height="11" fill="#0000ff" shape-rendering="crispEdges"/>
<text x="1650" y="452" fill="#fff" stroke="#fff" stroke-width="0.17" font-size="10.2" text-anchor="start" textLength="33" lengthAdjust="spacingAndGlyphs" >30720.0</text>
<rect x="1646" y="472" width="41" height="11" fill="#0000ff" shape-rendering="crispEdges"/>
<text x="1650" y="481" fill="#fff" stroke="#fff" stroke-width="0.17" font-size="10.2" text-anchor="start" textLength="33" lengthAdjust="spacingAndGlyphs" >30523.5</text>
<text x="0" y="32" fill="#000" stroke="#000" stroke-width="0.17" font-size="10.2" text-anchor="start" textLength="186" lengthAdjust="spacingAndGlyphs" >DJ30-,H4&#160; 30959.5 30959.5 30959.5 30959.5</text>
<g shape-rendering="crispEdges">
<rect x="0" y="688" width="3" height="30" fill="#00ff00" />
<rect x="8" y="688" width="3" height="26" fill="#00ff00" />
<rect x="16" y="688" width="3" height="24" fill="#00ff00" />
<rect x="24" y="688" width="3" height="16" fill="#00ff00" />
<rect x="32" y="688" width="3" height="11" fill="#00ff00" />
<rect x="40" y="688" width="3" height="8" fill="#00ff00" />
<rect x="48" y="688" width="3" height="7" fill="#00ff00" />
<rect x="56" y="688" width="3" height="6" fill="#00ff00" />
<rect x="64" y="688" width="3" height="6" fill="#00ff00" />
<rect x="72" y="688" width="3" height="5" fill="#00ff00" />
<rect x="80" y="688" width="3" height="2" fill="#00ff00" />
<rect x="88" y="685" width="3" height="3" fill="#00ff00" />
<rect x="96" y="682" width="3" height="6" fill="#00ff00" />
<rect x="104" y="680" width="3" height="8" fill="#00ff00" />
<rect x="112" y="681" width="3" height="7" fill="#00ff00" />
<rect x="120" y="680" width="3" height="8" fill="#00ff00" />
<rect x="128" y="677" width="3" height="11" fill="#00ff00" />
<rect x="136" y="675" width="3" height="13" fill="#00ff00" />
<rect x="144" y="674" width="3" height="14" fill="#00ff00" />
<rect x="152" y="672" width="3" height="16" fill="#00ff00" />
<rect x="160" y="669" width="3" height="19" fill="#00ff00" />
<rect x="168" y="664" width="3" height="24" fill="#00ff00" />
<rect x="176" y="660" width="3" height="28" fill="#00ff00" />
<rect x="184" y="657" width="3" height="31" fill="#00ff00" />
<rect x="192" y="656" width="3" height="32" fill="#00ff00" />
<rect x="200" y="655" width="3" height="33" fill="#00ff00" />
<rect x="208" y="655" width="3" height="33" fill="#00ff00" />
<rect x="216" y="651" width="3" height="37" fill="#00ff00" />
<rect x="224" y="645" width="3" height="43" fill="#00ff00" />
<rect x="232" y="641" width="3" height="47" fill="#00ff00" />
<rect x="240" y="638" width="3" height="50" fill="#00ff00" />
<rect x="248" y="635" width="3" height="53" fill="#00ff00" />
<rect x="256" y="634" width="3" height="54" fill="#00ff00" />
<rect x="264" y="633" width="3" height="55" fill="#00ff00" />
<rect x="272" y="634" width="3" height="54" fill="#00ff00" />
<rect x="280" y="635" width="3" height="53" fill="#00ff00" />
<rect x="288" y="638" width="3" height="50" fill="#00ff00" />
<rect x="296" y="642" width="3" height="46" fill="#00ff00" />
<rect x="304" y="646" width="3" height="42" fill="#00ff00" />
<rect x="312" y="649" width="3" height="39" fill="#00ff00" />
<rect x="320" y="653" width="3" height="35" fill="#00ff00" />
<rect x="328" y="654" width="3" height="34" fill="#00ff00" />
<rect x="336" y="656" width="3" height="32" fill="#00ff00" />
<rect x="344" y="658" width="3" height="30" fill="#00ff00" />
<rect x="352" y="659" width="3" height="29" fill="#00ff00" />
<rect x="360" y="667" width="3" height="21" fill="#00ff00" />
<rect x="368" y="671" width="3" height="17" fill="#00ff00" />
<rect x="376" y="675" width="3" height="13" fill="#00ff00" />
<rect x="384" y="678" width="3" height="10" fill="#00ff00" />
<rect x="392" y="680" width="3" height="8" fill="#00ff00" />
<rect x="400" y="680" width="3" height="8" fill="#00ff00" />
<rect x="408" y="681" width="3" height="7" fill="#00ff00" />
<rect x="416" y="678" width="3" height="10" fill="#00ff00" />
<rect x="424" y="675" width="3" height="13" fill="#00ff00" />
<rect x="432" y="673" width="3" height="15" fill="#00ff00" />
<rect x="440" y="673" width="3" height="15" fill="#00ff00" />
<rect x="448" y="674" width="3" height="14" fill="#00ff00" />
<rect x="456" y="677" width="3" height="11" fill="#00ff00" />
<rect x="464" y="679" width="3" height="9" fill="#00ff00" />
<rect x="472" y="681" width="3" height="7" fill="#00ff00" />
<rect x="480" y="681" width="3" height="7" fill="#00ff00" />
<rect x="488" y="680" width="3" height="8" fill="#00ff00" />
<rect x="496" y="678" width="3" height="10" fill="#00ff00" />
<rect x="504" y="679" width="3" height="9" fill="#00ff00" />
<rect x="512" y="682" width="3" height="6" fill="#00ff00" />
<rect x="520" y="684" width="3" height="4" fill="#00ff00" />
<rect x="528" y="687" width="3" height="1" fill="#00ff00" />
<rect x="536" y="688" width="3" height="2" fill="#00ff00" />
<rect x="544" y="688" width="3" height="4" fill="#00ff00" />
<rect x="552" y="688" width="3" height="4" fill="#00ff00" />
<rect x="560" y="688" width="3" height="1" fill="#00ff00" />
<rect x="568" y="686" width="3" height="2" fill="#00ff00" />
<rect x="576" y="685" width="3" height="3" fill="#00ff00" />
<rect x="584" y="685" width="3" height="3" fill="#00ff00" />
<rect x="592" y="685" width="3" height="3" fill="#00ff00" />
<rect x="600" y="684" width="3" height="4" fill="#00ff00" />
<rect x="608" y="685" width="3" height="3" fill="#00ff00" />
<rect x="616" y="686" width="3" height="2" fill="#00ff00" />
<rect x="624" y="688" width="3" height="1" fill="#00ff00" />
<rect x="632" y="688" width="3" height="1" fill="#00ff00" />
<rect x="640" y="688" width="3" height="1" fill="#00ff00" />
<rect x="648" y="688" width="3" height="3" fill="#00ff00" />
<rect x="656" y="688" width="3" height="10" fill="#00ff00" />
<rect x="664" y="688" width="3" height="16" fill="#00ff00" />
<rect x="672" y="688" width="3" height="19" fill="#00ff00" />
<rect x="680" y="688" width="3" height="24" fill="#00ff00" />
<rect x="688" y="688" width="3" height="26" fill="#00ff00" />
<rect x="696" y="688" width="3" height="36" fill="#00ff00" />
<rect x="704" y="688" width="3" height="45" fill="#00ff00" />
<rect x="712" y="688" width="3" height="53" fill="#00ff00" />
<rect x="720" y="688" width="3" height="61" fill="#00ff00" />
<rect x="728" y="688" width="3" height="68" fill="#00ff00" />
<rect x="736" y="688" width="3" height="74" fill="#00ff00" />
<rect x="744" y="688" width="3" height="79" fill="#00ff00" />
<rect x="752" y="688" width="3" height="84" fill="#00ff00" />
<rect x="760" y="688" width="3" height="86" fill="#00ff00" />
<rect x="768" y="688" width="3" height="86" fill="#00ff00" />
<rect x="776" y="688" width="3" height="84" fill="#00ff00" />
<rect x="784" y="688" width="3" height="84" fill="#00ff00" />
<rect x="792" y="688" width="3" height="85" fill="#00ff00" />
<rect x="800" y="688" width="3" height="83" fill="#00ff00" />
<rect x="808" y="688" width="3" height="82" fill="#00ff00" />
<rect x="816" y="688" width="3" height="80" fill="#00ff00" />
<rect x="824" y="688" width="3" height="77" fill="#00ff00" />
<rect x="832" y="688" width="3" height="72" fill="#00ff00" />
<rect x="840" y="688" width="3" height="68" fill="#00ff00" />
<rect x="848" y="688" width="3" height="63" fill="#00ff00" />
<rect x="856" y="688" width="3" height="56" fill="#00ff00" />
<rect x="864" y="688" width="3" height="51" fill="#00ff00" />
<rect x="872" y="688" width="3" height="53" fill="#00ff00" />
<rect x="880" y="688" width="3" height="55" fill="#00ff00" />
<rect x="888" y="688" width="3" height="57" fill="#00ff00" />
<rect x="896" y="688" width="3" height="58" fill="#00ff00" />
<rect x="904" y="688" width="3" height="58" fill="#00ff00" />
<rect x="912" y="688" width="3" height="56" fill="#00ff00" />
<rect x="920" y="688" width="3" height="54" fill="#00ff00" />
<rect x="928" y="688" width="3" height="52" fill="#00ff00" />
<rect x="936" y="688" width="3" height="53" fill="#00ff00" />
<rect x="944" y="688" width="3" height="53" fill="#00ff00" />
<rect x="952" y="688" width="3" height="50" fill="#00ff00" />
<rect x="960" y="688" width="3" height="48" fill="#00ff00" />
<rect x="968" y="688" width="3" height="46" fill="#00ff00" />
<rect x="976" y="688" width="3" height="42" fill="#00ff00" />
<rect x="984" y="688" width="3" height="38" fill="#00ff00" />
<rect x="992" y="688" width="3" height="34" fill="#00ff00" />
<rect x="1000" y="688" width="3" height="30" fill="#00ff00" />
<rect x="1008" y="688" width="3" height="26" fill="#00ff00" />
<rect x="1016" y="688" width="3" height="22" fill="#00ff00" />
<rect x="1024" y="688" width="3" height="20" fill="#00ff00" />
<rect x="1032" y="688" width="3" height="16" fill="#00ff00" />
<rect x="1040" y="688" width="3" height="11" fill="#00ff00" />
<rect x="1048" y="688" width="3" height="8" fill="#00ff00" />
<rect x="1056" y="688" width="3" height="8" fill="#00ff00" />
<rect x="1064" y="688" width="3" height="10" fill="#00ff00" />
<rect x="1072" y="688" width="3" height="10" fill="#00ff00" />
<rect x="1080" y="688" width="3" height="7" fill="#00ff00" />
<rect x="1088" y="688" width="3" height="5" fill="#00ff00" />
<rect x="1096" y="688" width="3" height="4" fill="#00ff00" />
<rect x="1104" y="688" width="3" height="2" fill="#00ff00" />
<rect x="1112" y="688" width="3" height="2" fill="#00ff00" />
<rect x="1120" y="686" width="3" height="2" fill="#00ff00" />
<rect x="1128" y="686" width="3" height="2" fill="#00ff00" />
<rect x="1136" y="683" width="3" height="5" fill="#00ff00" />
<rect x="1144" y="681" width="3" height="7" fill="#00ff00" />
<rect x="1152" y="678" width="3" height="10" fill="#00ff00" />
<rect x="1160" y="675" width="3" height="13" fill="#00ff00" />
<rect x="1168" y="672" width="3" height="16" fill="#00ff00" />
<rect x="1176" y="665" width="3" height="23" fill="#00ff00" />
<rect x="1184" y="658" width="3" height="30" fill="#00ff00" />
<rect x="1192" y="654" width="3" height="34" fill="#00ff00" />
<rect x="1200" y="649" width="3" height="39" fill="#00ff00" />
<rect x="1208" y="644" width="3" height="44" fill="#00ff00" />
<rect x="1216" y="642" width="3" height="46" fill="#00ff00" />
<rect x="1224" y="641" width="3" height="47" fill="#00ff00" />
<rect x="1232" y="643" width="3" height="45" fill="#00ff00" />
<rect x="1240" y="644" width="3" height="44" fill="#00ff00" />
<rect x="1248" y="646" width="3" height="42" fill="#00ff00" />
<rect x="1256" y="646" width="3" height="42" fill="#00ff00" />
<rect x="1264" y="647" width="3" height="41" fill="#00ff00" />
<rect x="1272" y="651" width="3" height="37" fill="#00ff00" />
<rect x="1280" y="658" width="3" height="30" fill="#00ff00" />
<rect x="1288" y="665" width="3" height="23" fill="#00ff00" />
<rect x="1296" y="670" width="3" height="18" fill="#00ff00" />
<rect x="1645" y="627" width="2" height="1" fill="#000" />
<rect x="1645" y="688" width="2" height="1" fill="#000" />
<rect x="1645" y="780" width="2" height="1" fill="#000" />
<rect x="1645" y="785" width="2" height="1" fill="#000" />
<rect x="1645" y="920" width="1" height="1" fill="#000" />
</g>
<polyline fill="none" stroke="#ff0000" stroke-width="2.3" points="-2.0,723.3 0.5,722.9 16.5,720.9 32.5,715.5 48.5,709.5 64.5,703.4 80.5,697.4 88.5,694.4 104.5,690.8 120.5,686.7 136.5,683.9 144.5,680.3 152.5,678.3 160.5,677.9 168.5,675.9 176.5,672.7 184.5,670.3 192.5,667.6 200.5,665.2 208.5,662.2 216.5,660.8 224.5,657.6 232.5,654.2 240.5,651.2 248.5,648.1 256.5,645.5 264.5,643.5 272.5,641.7 280.5,638.1 288.5,637.1 296.5,636.7 304.5,637.1 312.5,638.5 320.5,640.7 328.5,643.7 336.5,645.1 344.5,648.1 352.5,650.2 360.5,653.8 368.5,657.2 376.5,659.6 384.5,664.2 392.5,666.2 400.5,669.3 408.5,672.3 416.5,674.3 424.5,676.3 432.5,676.9 496.5,676.9 504.5,678.3 512.5,678.9 520.5,679.9 528.5,680.9 536.5,682.3 544.5,684.3 552.5,685.7 560.5,685.7 568.5,686.7 608.5,686.7 616.5,685.7 640.5,685.7 648.5,686.0 656.5,688.4 664.5,690.4 672.5,691.4 680.5,695.4 688.5,698.4 696.5,701.8 704.5,706.9 712.5,712.9 720.5,718.9 728.5,725.6 736.5,731.6 744.5,738.6 752.5,745.7 760.5,752.1 768.5,758.1 776.5,762.7 784.5,766.8 792.5,768.8 800.5,770.4 808.5,770.8 824.5,770.8 832.5,769.2 840.5,767.4 848.5,765.2 856.5,762.1 864.5,758.3 872.5,754.7 880.5,751.7 888.5,748.7 896.5,746.3 904.5,745.7 912.5,744.6 920.5,743.0 928.5,742.6 944.5,742.6 952.5,742.2 960.5,741.6 968.5,740.6 976.5,738.6 984.5,736.6 992.5,733.6 1000.5,731.6 1008.5,729.6 1016.5,725.6 1024.5,721.9 1032.5,718.9 1040.5,714.5 1048.5,710.5 1056.5,707.5 1064.5,704.4 1072.5,702.4 1080.5,699.4 1088.5,697.4 1096.5,696.4 1104.5,694.4 1112.5,693.4 1120.5,692.4 1128.5,691.4 1136.5,690.4 1144.5,688.4 1152.5,686.3 1160.5,684.3 1168.5,682.3 1176.5,680.3 1184.5,676.3 1192.5,672.3 1200.5,668.3 1208.5,664.2 1216.5,660.2 1224.5,656.2 1232.5,652.2 1240.5,648.7 1248.5,646.7 1256.5,646.1 1264.5,645.1 1272.5,644.5 1280.5,646.1 1288.5,648.5 1296.5,651.8" shape-rendering="crispEdges"/>
<text x="1647.7" y="636" fill="#000" stroke="#000" stroke-width="0.17" font-size="10.2" text-anchor="start" textLength="28.5" lengthAdjust="spacingAndGlyphs" >431.56</text>
<text x="1648" y="692" fill="#000" stroke="#000" stroke-width="0.17" font-size="10.2" text-anchor="start" textLength="18" lengthAdjust="spacingAndGlyphs" >0.00</text>
<text x="1648" y="779" fill="#000" stroke="#000" stroke-width="0.17" font-size="10.2" text-anchor="start" textLength="31" lengthAdjust="spacingAndGlyphs" >-652.53</text>
<text x="-12.5" y="638" fill="#000" stroke="#000" stroke-width="0.17" font-size="10.2" text-anchor="start" textLength="8" lengthAdjust="spacingAndGlyphs" >M</text>
<text x="-4" y="638" fill="#000" stroke="#000" stroke-width="0.17" font-size="10.2" text-anchor="start" textLength="6.5" lengthAdjust="spacingAndGlyphs" >A</text>
<text x="3" y="638" fill="#000" stroke="#000" stroke-width="0.17" font-size="10.2" text-anchor="start" textLength="14" lengthAdjust="spacingAndGlyphs" >CD</text>
<text x="18" y="638" fill="#000" stroke="#000" stroke-width="0.17" font-size="10.2" text-anchor="start" textLength="37.4" lengthAdjust="spacingAndGlyphs" >(12,26,9)</text>
<text x="58.8" y="638" fill="#000" stroke="#000" stroke-width="0.17" font-size="10.2" text-anchor="start" textLength="26.6" lengthAdjust="spacingAndGlyphs" >126.11</text>
<text x="89.6" y="638" fill="#000" stroke="#000" stroke-width="0.17" font-size="10.2" text-anchor="start" textLength="27.3" lengthAdjust="spacingAndGlyphs" >249.96</text>
<g shape-rendering="crispEdges">
<line x1="0" y1="812.5" x2="1644" y2="812.5" stroke="#000" stroke-width="1" stroke-dasharray="3,3" stroke-dashoffset="2"/>
<line x1="0" y1="852.5" x2="1644" y2="852.5" stroke="#000" stroke-width="1" stroke-dasharray="3,3" stroke-dashoffset="2"/>
<line x1="0" y1="900.5" x2="1644" y2="900.5" stroke="#000" stroke-width="1" stroke-dasharray="3,3" stroke-dashoffset="2"/>
</g>
<polyline fill="none" stroke="#1e90ff" stroke-width="2.3" points="-3.0,861.0 1.5,860.0 9.5,857.4 17.5,856.0 25.5,844.9 33.5,844.9 41.5,849.4 49.5,850.4 57.5,855.0 65.5,854.0 73.5,856.0 81.5,844.3 89.5,840.9 97.5,839.9 105.5,845.3 113.5,851.4 121.5,845.3 129.5,840.7 137.5,841.9 145.5,840.3 153.5,837.3 161.5,834.3 169.5,826.2 177.5,826.2 185.5,827.6 193.5,829.9 201.5,828.9 209.5,828.9 217.5,819.2 225.5,814.2 233.5,813.8 241.5,813.8 249.5,811.6 257.5,817.6 265.5,817.6 273.5,817.6 281.5,821.8 289.5,827.2 297.5,836.9 305.5,839.9 313.5,835.7 321.5,841.9 329.5,836.3 337.5,836.9 345.5,836.9 353.5,836.9 361.5,864.0 369.5,855.8 377.5,857.8 385.5,855.0 393.5,852.4 401.5,849.0 409.5,851.4 417.5,838.3 425.5,836.9 433.5,838.3 441.5,840.9 449.5,847.4 457.5,854.4 465.5,854.4 473.5,854.4 481.5,848.4 489.5,842.9 497.5,842.9 505.5,850.0 513.5,855.8 521.5,856.0 529.5,861.4 537.5,861.8 545.5,864.8 553.5,854.4 561.5,842.7 569.5,846.3 577.5,846.9 585.5,848.8 593.5,848.8 601.5,845.7 609.5,856.4 617.5,855.8 625.5,856.8 633.5,856.4 641.5,852.8 649.5,862.4 657.5,879.5 665.5,877.1 673.5,877.5 681.5,879.9 689.5,879.9 697.5,894.6 705.5,895.2 713.5,898.2 721.5,899.6 729.5,901.2 737.5,902.2 745.5,903.6 753.5,903.6 761.5,900.6 769.5,894.2 777.5,889.6 785.5,893.6 793.5,895.0 801.5,895.0 809.5,889.0 817.5,889.0 825.5,885.6 833.5,879.9 841.5,880.9 849.5,872.9 857.5,863.4 865.5,864.8 873.5,881.5 881.5,882.5 889.5,884.5 897.5,884.9 905.5,884.5 913.5,879.1 921.5,874.9 929.5,874.9 937.5,882.9 945.5,880.5 953.5,871.9 961.5,873.9 969.5,872.5 977.5,866.4 985.5,862.8 993.5,862.8 1001.5,862.4 1009.5,855.0 1017.5,851.8 1025.5,855.0 1033.5,850.4 1041.5,844.7 1049.5,845.9 1057.5,856.0 1065.5,864.8 1073.5,860.4 1081.5,848.0 1089.5,848.0 1097.5,850.8 1105.5,850.8 1113.5,856.0 1121.5,842.9 1129.5,851.0 1137.5,843.9 1145.5,846.9 1153.5,840.9 1161.5,838.9 1169.5,837.7 1177.5,827.2 1185.5,823.6 1193.5,829.9 1201.5,826.2 1209.5,823.6 1217.5,828.7 1225.5,828.9 1233.5,834.7 1241.5,834.7 1249.5,835.9 1257.5,832.9 1265.5,830.9 1273.5,849.0 1281.5,857.8 1289.5,856.0 1297.5,855.8" shape-rendering="crispEdges"/>
<text x="1648.3" y="795" fill="#000" stroke="#000" stroke-width="0.17" font-size="10.2" text-anchor="start" textLength="14.3" lengthAdjust="spacingAndGlyphs" >100</text>
<text x="1647" y="816" fill="#000" stroke="#000" stroke-width="0.17" font-size="10.2" text-anchor="start" textLength="10" lengthAdjust="spacingAndGlyphs" >80</text>
<text x="1647" y="856" fill="#000" stroke="#000" stroke-width="0.17" font-size="10.2" text-anchor="start" textLength="10" lengthAdjust="spacingAndGlyphs" >50</text>
<text x="1647.6" y="904" fill="#000" stroke="#000" stroke-width="0.17" font-size="10.2" text-anchor="start" textLength="9.5" lengthAdjust="spacingAndGlyphs" >15</text>
<text x="1648" y="918" fill="#000" stroke="#000" stroke-width="0.17" font-size="10.2" text-anchor="start" textLength="5.3" lengthAdjust="spacingAndGlyphs" >0</text>
<text x="-5.5" y="796" fill="#000" stroke="#000" stroke-width="0.17" font-size="10.2" text-anchor="start" textLength="6.3" lengthAdjust="spacingAndGlyphs" >S</text>
<text x="1.5" y="796" fill="#000" stroke="#000" stroke-width="0.17" font-size="10.2" text-anchor="start" textLength="2.3" lengthAdjust="spacingAndGlyphs" >I</text>
<text x="5" y="796" fill="#000" stroke="#000" stroke-width="0.17" font-size="10.2" text-anchor="start" textLength="15.8" lengthAdjust="spacingAndGlyphs" >(14)</text>
<text x="24.2" y="796" fill="#000" stroke="#000" stroke-width="0.17" font-size="10.2" text-anchor="start" textLength="32.7" lengthAdjust="spacingAndGlyphs" >47.0754</text>
<g shape-rendering="crispEdges">
<line x1="1268.7" y1="278" x2="1301.8" y2="428" stroke="#00ff00" stroke-width="3.4"/>
<polygon points="1296.8,428.7 1299.8,427.3 1306.4,425 1306.4,431.8 1304,438.6 1302.8,438.2" fill="#00ff00"/>
<line x1="1241" y1="636" x2="1306" y2="669.8" stroke="#00ff00" stroke-width="3"/>
<polygon points="1306.5,666 1315,674.3 1314,676 1308.5,676 1307.5,674.8 1302.2,673.8 1304,671" fill="#00ff00"/>
</g>
<g shape-rendering="crispEdges">
<rect x="49" y="921" width="1" height="4" fill="#000" />
<rect x="113" y="921" width="1" height="4" fill="#000" />
<rect x="177" y="921" width="1" height="4" fill="#000" />
<rect x="241" y="921" width="1" height="4" fill="#000" />
<rect x="305" y="921" width="1" height="4" fill="#000" />
<rect x="369" y="921" width="1" height="4" fill="#000" />
<rect x="433" y="921" width="1" height="4" fill="#000" />
<rect x="497" y="921" width="1" height="4" fill="#000" />
<rect x="561" y="921" width="1" height="4" fill="#000" />
<rect x="625" y="921" width="1" height="4" fill="#000" />
<rect x="689" y="921" width="1" height="4" fill="#000" />
<rect x="753" y="921" width="1" height="4" fill="#000" />
<rect x="817" y="921" width="1" height="4" fill="#000" />
<rect x="881" y="921" width="1" height="4" fill="#000" />
<rect x="945" y="921" width="1" height="4" fill="#000" />
<rect x="1009" y="921" width="1" height="4" fill="#000" />
<rect x="1073" y="921" width="1" height="4" fill="#000" />
<rect x="1137" y="921" width="1" height="4" fill="#000" />
<rect x="1201" y="921" width="1" height="4" fill="#000" />
<rect x="1265" y="921" width="1" height="4" fill="#000" />
</g>
<text x="-15" y="934" fill="#000" stroke="#000" stroke-width="0.17" font-size="10.2" text-anchor="start" textLength="54" lengthAdjust="spacingAndGlyphs" >20 May 2022</text>
<text x="48.3" y="934" fill="#000" stroke="#000" stroke-width="0.17" font-size="10.2" text-anchor="start" textLength="58" lengthAdjust="spacingAndGlyphs" >24 May 00:00</text>
<text x="112.3" y="934" fill="#000" stroke="#000" stroke-width="0.17" font-size="10.2" text-anchor="start" textLength="58" lengthAdjust="spacingAndGlyphs" >25 May 08:00</text>
<text x="176.3" y="934" fill="#000" stroke="#000" stroke-width="0.17" font-size="10.2" text-anchor="start" textLength="58" lengthAdjust="spacingAndGlyphs" >26 May 16:00</text>
<text x="240.3" y="934" fill="#000" stroke="#000" stroke-width="0.17" font-size="10.2" text-anchor="start" textLength="58" lengthAdjust="spacingAndGlyphs" >30 May 00:00</text>
<text x="304.3" y="934" fill="#000" stroke="#000" stroke-width="0.17" font-size="10.2" text-anchor="start" textLength="58" lengthAdjust="spacingAndGlyphs" >31 May 08:00</text>
<text x="368.3" y="934" fill="#000" stroke="#000" stroke-width="0.17" font-size="10.2" text-anchor="start" textLength="46.5" lengthAdjust="spacingAndGlyphs" >1 Jun 16:00</text>
<text x="432.3" y="934" fill="#000" stroke="#000" stroke-width="0.17" font-size="10.2" text-anchor="start" textLength="46.5" lengthAdjust="spacingAndGlyphs" >3 Jun 00:00</text>
<text x="496.3" y="934" fill="#000" stroke="#000" stroke-width="0.17" font-size="10.2" text-anchor="start" textLength="46.5" lengthAdjust="spacingAndGlyphs" >6 Jun 08:00</text>
<text x="560.3" y="934" fill="#000" stroke="#000" stroke-width="0.17" font-size="10.2" text-anchor="start" textLength="46.5" lengthAdjust="spacingAndGlyphs" >7 Jun 16:00</text>
<text x="624.3" y="934" fill="#000" stroke="#000" stroke-width="0.17" font-size="10.2" text-anchor="start" textLength="46.5" lengthAdjust="spacingAndGlyphs" >9 Jun 00:00</text>
<text x="688.3" y="934" fill="#000" stroke="#000" stroke-width="0.17" font-size="10.2" text-anchor="start" textLength="52.4" lengthAdjust="spacingAndGlyphs" >10 Jun 08:00</text>
<text x="752.3" y="934" fill="#000" stroke="#000" stroke-width="0.17" font-size="10.2" text-anchor="start" textLength="52.4" lengthAdjust="spacingAndGlyphs" >13 Jun 16:00</text>
<text x="816.3" y="934" fill="#000" stroke="#000" stroke-width="0.17" font-size="10.2" text-anchor="start" textLength="52.4" lengthAdjust="spacingAndGlyphs" >15 Jun 00:00</text>
<text x="880.3" y="934" fill="#000" stroke="#000" stroke-width="0.17" font-size="10.2" text-anchor="start" textLength="52.4" lengthAdjust="spacingAndGlyphs" >16 Jun 08:00</text>
<text x="944.3" y="934" fill="#000" stroke="#000" stroke-width="0.17" font-size="10.2" text-anchor="start" textLength="52.4" lengthAdjust="spacingAndGlyphs" >17 Jun 16:00</text>
<text x="1008.3" y="934" fill="#000" stroke="#000" stroke-width="0.17" font-size="10.2" text-anchor="start" textLength="52.4" lengthAdjust="spacingAndGlyphs" >21 Jun 00:00</text>
<text x="1072.3" y="934" fill="#000" stroke="#000" stroke-width="0.17" font-size="10.2" text-anchor="start" textLength="52.4" lengthAdjust="spacingAndGlyphs" >22 Jun 08:00</text>
<text x="1136.3" y="934" fill="#000" stroke="#000" stroke-width="0.17" font-size="10.2" text-anchor="start" textLength="52.4" lengthAdjust="spacingAndGlyphs" >23 Jun 16:00</text>
<text x="1200.3" y="934" fill="#000" stroke="#000" stroke-width="0.17" font-size="10.2" text-anchor="start" textLength="52.4" lengthAdjust="spacingAndGlyphs" >27 Jun 00:00</text>
<text x="1264.3" y="934" fill="#000" stroke="#000" stroke-width="0.17" font-size="10.2" text-anchor="start" textLength="52.4" lengthAdjust="spacingAndGlyphs" >28 Jun 08:00</text>
</svg></body></html>
